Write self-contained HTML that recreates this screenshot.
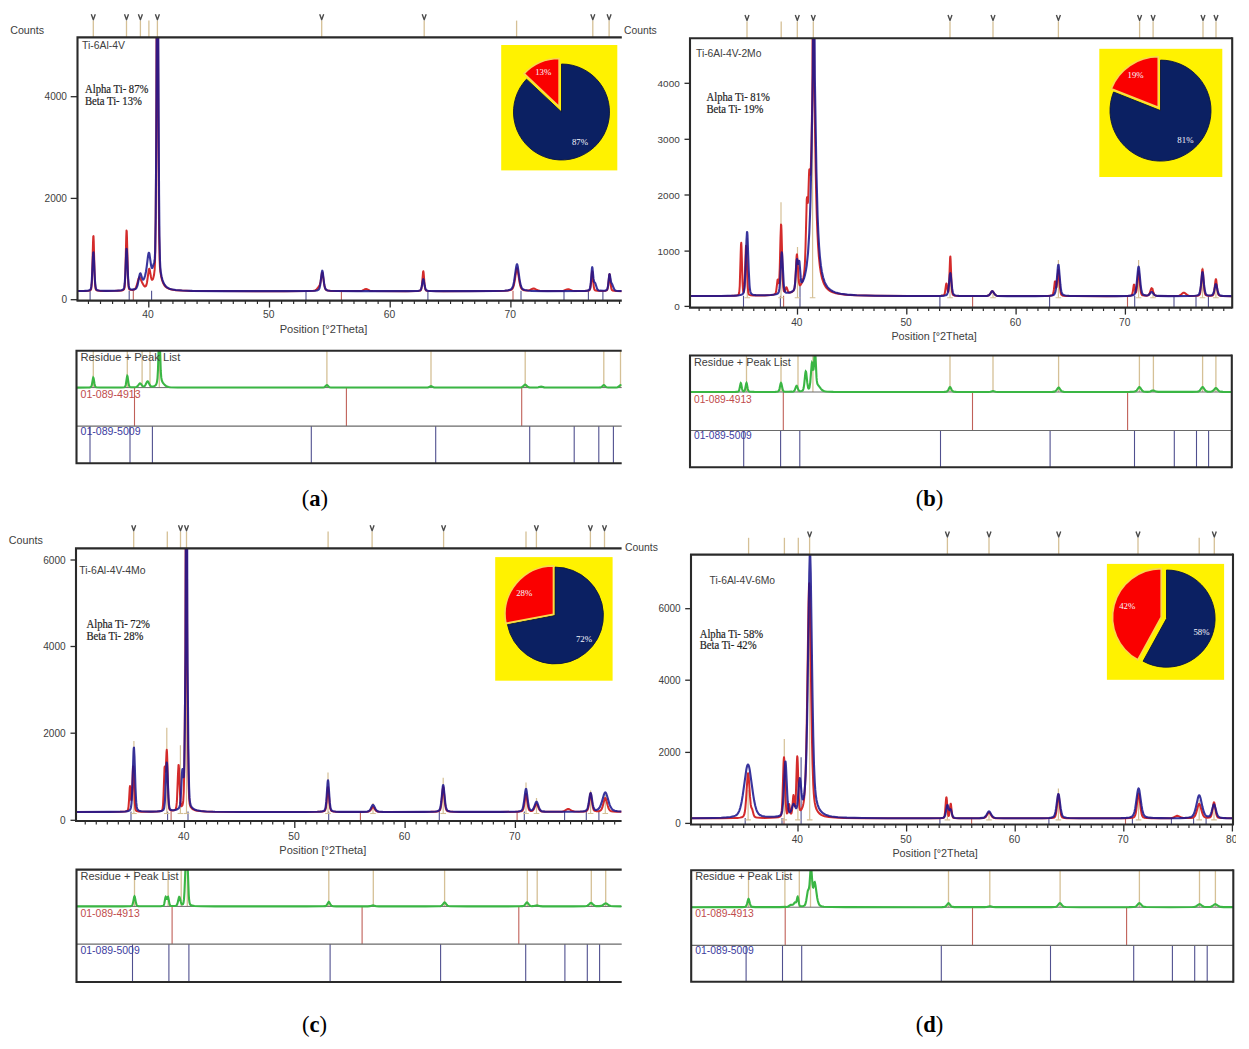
<!DOCTYPE html>
<html><head><meta charset="utf-8"><style>
html,body{margin:0;padding:0;background:#fff;}
svg{display:block;}
</style></head><body>
<svg width="1249" height="1049" viewBox="0 0 1249 1049">
<rect width="1249" height="1049" fill="#fff"/>
<clipPath id="edgeclip"><rect x="0" y="0" width="1236" height="1049"/></clipPath>
<clipPath id="c0"><rect x="77.5" y="37.4" width="544.3" height="263.2"/></clipPath>
<line x1="93.3" y1="20.6" x2="93.3" y2="37.4" stroke="#d5c096" stroke-width="1.3"/>
<path d="M91.3,14.2 L93.3,19.8 L95.3,14.2" stroke="#4a4a4a" stroke-width="1.35" fill="none" stroke-linejoin="round"/>
<line x1="126.5" y1="20.6" x2="126.5" y2="37.4" stroke="#d5c096" stroke-width="1.3"/>
<path d="M124.5,14.2 L126.5,19.8 L128.5,14.2" stroke="#4a4a4a" stroke-width="1.35" fill="none" stroke-linejoin="round"/>
<line x1="140.4" y1="20.6" x2="140.4" y2="37.4" stroke="#d5c096" stroke-width="1.3"/>
<path d="M138.4,14.2 L140.4,19.8 L142.4,14.2" stroke="#4a4a4a" stroke-width="1.35" fill="none" stroke-linejoin="round"/>
<line x1="148.9" y1="20.6" x2="148.9" y2="37.4" stroke="#d5c096" stroke-width="1.3"/>
<line x1="157.4" y1="20.6" x2="157.4" y2="37.4" stroke="#d5c096" stroke-width="1.3"/>
<path d="M155.4,14.2 L157.4,19.8 L159.4,14.2" stroke="#4a4a4a" stroke-width="1.35" fill="none" stroke-linejoin="round"/>
<line x1="321.7" y1="20.6" x2="321.7" y2="37.4" stroke="#d5c096" stroke-width="1.3"/>
<path d="M319.7,14.2 L321.7,19.8 L323.7,14.2" stroke="#4a4a4a" stroke-width="1.35" fill="none" stroke-linejoin="round"/>
<line x1="424.2" y1="20.6" x2="424.2" y2="37.4" stroke="#d5c096" stroke-width="1.3"/>
<path d="M422.2,14.2 L424.2,19.8 L426.2,14.2" stroke="#4a4a4a" stroke-width="1.35" fill="none" stroke-linejoin="round"/>
<line x1="516.6" y1="20.6" x2="516.6" y2="37.4" stroke="#d5c096" stroke-width="1.3"/>
<line x1="592.8" y1="20.6" x2="592.8" y2="37.4" stroke="#d5c096" stroke-width="1.3"/>
<path d="M590.8,14.2 L592.8,19.8 L594.8,14.2" stroke="#4a4a4a" stroke-width="1.35" fill="none" stroke-linejoin="round"/>
<line x1="609.1" y1="20.6" x2="609.1" y2="37.4" stroke="#d5c096" stroke-width="1.3"/>
<path d="M607.1,14.2 L609.1,19.8 L611.1,14.2" stroke="#4a4a4a" stroke-width="1.35" fill="none" stroke-linejoin="round"/>
<g clip-path="url(#c0)">
<line x1="90.1" y1="290.7" x2="90.1" y2="300.6" stroke="#50508f" stroke-width="1.1"/>
<line x1="129.2" y1="290.7" x2="129.2" y2="300.6" stroke="#50508f" stroke-width="1.1"/>
<line x1="151.6" y1="290.7" x2="151.6" y2="300.6" stroke="#50508f" stroke-width="1.1"/>
<line x1="306" y1="290.7" x2="306" y2="300.6" stroke="#50508f" stroke-width="1.1"/>
<line x1="427.9" y1="290.7" x2="427.9" y2="300.6" stroke="#50508f" stroke-width="1.1"/>
<line x1="521" y1="290.7" x2="521" y2="300.6" stroke="#50508f" stroke-width="1.1"/>
<line x1="564" y1="290.7" x2="564" y2="300.6" stroke="#50508f" stroke-width="1.1"/>
<line x1="588.4" y1="290.7" x2="588.4" y2="300.6" stroke="#50508f" stroke-width="1.1"/>
<line x1="602.9" y1="290.7" x2="602.9" y2="300.6" stroke="#50508f" stroke-width="1.1"/>
<line x1="133.3" y1="290.7" x2="133.3" y2="300.6" stroke="#c06058" stroke-width="1.1"/>
<line x1="341.4" y1="290.7" x2="341.4" y2="300.6" stroke="#c06058" stroke-width="1.1"/>
<line x1="513" y1="290.7" x2="513" y2="300.6" stroke="#c06058" stroke-width="1.1"/>
<path d="M77.5,291.1 L85.25,290.99 L88.75,290.71 L89.75,290.47 L90.5,290.1 L91,289.41 L91.25,288.6 L91.75,284.23 L92,279.56 L93,243.11 L93.25,236.74 L93.5,236.11 L93.75,241.47 L94.5,270.87 L95,283.45 L95.5,288.34 L95.75,289.27 L96.25,290.03 L96.75,290.33 L97.75,290.62 L100.5,290.89 L106.75,290.97 L115.5,290.86 L119.5,290.69 L121.75,290.44 L123.25,289.98 L124,289.33 L124.5,287.77 L124.75,285.84 L125.25,276.8 L126.25,236.43 L126.5,230.55 L126.75,231.23 L127,238.18 L128,277.99 L128.5,286.15 L128.75,287.83 L129.25,289.16 L129.75,289.58 L130.5,289.82 L132.5,289.92 L133.5,289.77 L134.25,289.51 L135.25,288.71 L136,287.45 L136.5,286.16 L138.5,278.68 L139,277.56 L139.25,277.33 L139.5,277.32 L139.75,277.51 L140.25,278.28 L142.5,283.37 L143.75,285.54 L144.75,286.44 L145.25,286.52 L145.75,286.21 L146.25,285.34 L146.5,284.63 L147,282.5 L148.75,270.14 L149,269.1 L149.25,268.69 L149.5,268.95 L149.75,269.81 L151,277 L151.5,278.94 L151.75,279.5 L152,279.8 L152.25,279.85 L152.75,279.31 L153.25,278.07 L154,275.01 L154.62,269.89 L154.98,262.8 L155.26,251.9 L155.66,221.15 L156.02,171.85 L156.38,99.03 L156.54,35.42 L156.58,32.4 L158.02,32.4 L158.3,115.95 L158.74,193.67 L159.14,236.45 L159.66,261.37 L159.94,267.09 L160.34,271.55 L161.09,276.2 L162.09,280.27 L163.09,283.01 L164.34,285.27 L165.84,286.97 L167.59,288.19 L169.09,288.86 L170.59,289.33 L172.59,289.77 L175.09,290.13 L181.34,290.6 L190.84,290.89 L219.34,291.1 L284.09,291.16 L305.59,291.09 L313.34,290.81 L315.09,290.45 L316.34,289.69 L317.59,288.26 L319.59,285.33 L320.09,283.95 L320.59,281.71 L321.84,273.69 L322.09,272.79 L322.34,272.63 L322.59,273.28 L322.84,274.61 L324.09,283.95 L324.84,287.51 L325.34,288.8 L326.09,289.78 L326.84,290.22 L328.09,290.57 L331.09,290.9 L336.34,291.07 L359.34,291.06 L360.84,290.95 L362.09,290.69 L363.09,290.29 L365.09,289.19 L366.09,288.98 L366.84,289.16 L369.84,290.67 L371.09,290.95 L372.84,291.08 L405.59,291.16 L417.84,290.99 L419.34,290.82 L420.34,290.54 L420.84,290.12 L421.34,288.97 L421.84,286.07 L422.09,283.67 L423.09,271.86 L423.34,271.21 L423.59,272.44 L424.59,284.51 L425.09,288.24 L425.34,289.24 L425.84,290.22 L426.34,290.57 L426.84,290.74 L428.34,290.96 L430.84,291.08 L443.34,291.17 L490.09,291.12 L499.59,291.02 L505.09,290.84 L508.34,290.54 L510.59,290.04 L511.84,289.37 L512.34,288.85 L512.84,288.08 L513.59,286.16 L514.09,284.19 L514.84,280.06 L516.34,269.96 L516.84,268.28 L517.09,268.2 L517.34,268.66 L517.59,269.62 L519.59,282.58 L520.59,286.7 L521.09,287.91 L521.84,289.03 L522.84,289.76 L524.09,290.18 L526.59,290.5 L528.59,290.38 L530.09,289.95 L532.59,288.74 L533.59,288.51 L534.84,288.8 L537.09,290.01 L538.34,290.51 L539.84,290.83 L542.09,291 L553.59,291.1 L561.34,290.99 L563.59,290.64 L566.84,289.37 L568.09,289.15 L569.09,289.35 L572.34,290.62 L574.59,290.98 L578.34,291.08 L584.34,291.02 L587.09,290.86 L588.59,290.58 L589.34,290.24 L589.84,289.68 L590.34,288.27 L590.59,286.94 L591.09,282.46 L591.84,273.1 L592.09,271.35 L592.34,271.47 L592.59,273.41 L593.34,282.8 L593.84,287.12 L594.34,289.21 L594.59,289.73 L595.09,290.25 L595.84,290.58 L597.34,290.84 L602.59,290.97 L605.84,290.67 L606.59,290.4 L607.09,289.97 L607.59,288.88 L608.09,286.31 L609.09,276.26 L609.34,274.51 L609.59,274.27 L609.84,275.65 L610.84,285.79 L611.34,288.64 L611.84,289.89 L612.59,290.51 L614.09,290.86 L616.84,291.05 L621.59,291.13" stroke="#d42b2b" stroke-width="2" fill="none" stroke-linejoin="round"/>
<path d="M77.5,291.06 L84.5,290.92 L88,290.62 L89.25,290.31 L90,289.93 L90.5,289.38 L90.75,288.87 L91.25,286.71 L91.75,281.73 L93,255.82 L93.25,252.63 L93.5,252.32 L94,259.83 L94.75,276.78 L95,281 L95.5,286.35 L96,288.71 L96.5,289.63 L97.25,290.15 L98.75,290.56 L101.25,290.79 L105.5,290.88 L117.5,290.65 L119.75,290.47 L121.5,290.18 L122.75,289.75 L123.5,289.15 L124,288.14 L124.25,287.15 L124.75,283.2 L125.25,275.24 L126.25,251.72 L126.5,248.83 L126.75,249.15 L127,252.57 L128,276.09 L128.5,283.55 L128.75,285.72 L129.25,288 L129.75,288.86 L130.25,289.22 L131,289.47 L132,289.58 L134.25,289.39 L135.5,288.92 L136,288.52 L136.5,287.87 L137.25,286.17 L137.75,284.39 L139.5,275.32 L140,273.64 L140.25,273.32 L140.5,273.38 L140.75,273.78 L142,277.89 L142.75,279.49 L143,279.68 L143.25,279.69 L143.5,279.53 L144,278.78 L145,275.98 L146,271.43 L146.75,266.35 L148,256.2 L148.5,253.45 L148.75,252.8 L149,252.73 L149.25,253.26 L149.5,254.31 L151,264.82 L151.5,267.16 L151.75,267.8 L152,268.06 L152.25,267.97 L152.5,267.56 L154.25,262.23 L154.5,261.06 L154.79,258.42 L155.15,250.86 L155.71,217.46 L156.27,138.22 L156.71,32.4 L158.27,32.4 L159.07,195.2 L159.47,236.27 L159.99,260.69 L160.31,267.1 L160.76,271.84 L161.51,276.27 L162.26,279.32 L163.26,282.23 L164.51,284.64 L166.01,286.47 L167.01,287.3 L168.01,287.94 L169.51,288.63 L171.26,289.2 L175.76,290.02 L182.26,290.53 L192.26,290.85 L221.76,291.09 L287.51,291.15 L307.76,291.07 L315.01,290.76 L316.76,290.48 L318.01,290.03 L318.76,289.4 L319.51,287.95 L320.26,284.74 L321.76,272.74 L322.01,271.31 L322.26,270.69 L322.51,271.02 L322.76,272.21 L324.01,282.56 L324.51,285.67 L325.01,287.71 L325.76,289.3 L326.51,289.98 L327.76,290.46 L329.51,290.76 L336.76,291.07 L357.26,291.17 L408.76,291.14 L415.26,291.06 L418.51,290.85 L420.01,290.45 L420.51,290.03 L421.01,289.17 L421.76,286.46 L422.76,280.7 L423.01,279.65 L423.26,279.19 L423.51,279.43 L423.76,280.31 L424.76,286.06 L425.51,288.98 L426.01,289.93 L426.51,290.4 L427.01,290.63 L428.01,290.84 L430.76,291.04 L436.01,291.13 L470.26,291.16 L494.26,291.05 L504.51,290.75 L508.01,290.36 L510.26,289.75 L511.51,288.92 L512.51,287.42 L513.26,285.33 L514.01,281.99 L516.26,266.39 L516.76,264.44 L517.01,264.19 L517.26,264.48 L517.76,266.5 L519.51,279.12 L520.01,282.09 L520.76,285.4 L521.51,287.46 L522.26,288.66 L523.26,289.51 L524.76,290.09 L527.51,290.57 L531.51,290.86 L547.76,291.11 L580.51,291.06 L585.51,290.86 L587.01,290.68 L588.26,290.37 L589.01,289.99 L589.51,289.45 L590.01,288.21 L590.26,287.09 L590.76,283.26 L591.76,270.25 L592.01,267.91 L592.26,267.19 L592.51,268.24 L593.51,278.64 L594.01,281.47 L594.26,282.07 L595.01,282.76 L595.26,283.18 L597.01,288.47 L597.51,289.43 L598.01,290.02 L598.76,290.45 L599.76,290.66 L603.51,290.76 L605.01,290.61 L606.01,290.37 L606.51,290.13 L607.01,289.6 L607.51,288.4 L608.01,285.87 L609.01,276.74 L609.26,274.86 L609.51,273.99 L609.76,274.35 L610.01,275.68 L611.01,281.97 L611.51,283.2 L612.26,284.29 L613.76,288.36 L614.51,289.75 L615.26,290.42 L616.26,290.75 L618.26,290.95 L621.76,291.07" stroke="#1c178e" stroke-width="2.1" fill="none" stroke-linejoin="round" stroke-opacity="0.87"/>
</g>
<path d="M77.5,300.6 L77.5,37.4 L621.8,37.4" stroke="#2a2a2a" stroke-width="2.1" fill="none"/>
<line x1="76.5" y1="300.6" x2="621.8" y2="300.6" stroke="#2a2a2a" stroke-width="2.1"/>
<line x1="70.7" y1="299.7" x2="77.5" y2="299.7" stroke="#2a2a2a" stroke-width="1.3"/>
<text x="67" y="303.3" font-family='"Liberation Sans", sans-serif' font-size="10.1" fill="#404040" text-anchor="end" font-weight="normal">0</text>
<line x1="70.7" y1="198.4" x2="77.5" y2="198.4" stroke="#2a2a2a" stroke-width="1.3"/>
<text x="67" y="202" font-family='"Liberation Sans", sans-serif' font-size="10.1" fill="#404040" text-anchor="end" font-weight="normal">2000</text>
<line x1="70.7" y1="96.7" x2="77.5" y2="96.7" stroke="#2a2a2a" stroke-width="1.3"/>
<text x="67" y="100.3" font-family='"Liberation Sans", sans-serif' font-size="10.1" fill="#404040" text-anchor="end" font-weight="normal">4000</text>
<line x1="88.45" y1="300.6" x2="88.45" y2="304" stroke="#2a2a2a" stroke-width="1.15"/>
<line x1="100.52" y1="300.6" x2="100.52" y2="304" stroke="#2a2a2a" stroke-width="1.15"/>
<line x1="112.59" y1="300.6" x2="112.59" y2="304" stroke="#2a2a2a" stroke-width="1.15"/>
<line x1="124.66" y1="300.6" x2="124.66" y2="304" stroke="#2a2a2a" stroke-width="1.15"/>
<line x1="136.73" y1="300.6" x2="136.73" y2="304" stroke="#2a2a2a" stroke-width="1.15"/>
<line x1="148.8" y1="300.6" x2="148.8" y2="307.6" stroke="#2a2a2a" stroke-width="1.3"/>
<text x="148.1" y="317.6" font-family='"Liberation Sans", sans-serif' font-size="10.3" fill="#404040" text-anchor="middle" font-weight="normal" clip-path="url(#edgeclip)">40</text>
<line x1="160.87" y1="300.6" x2="160.87" y2="304" stroke="#2a2a2a" stroke-width="1.15"/>
<line x1="172.94" y1="300.6" x2="172.94" y2="304" stroke="#2a2a2a" stroke-width="1.15"/>
<line x1="185.01" y1="300.6" x2="185.01" y2="304" stroke="#2a2a2a" stroke-width="1.15"/>
<line x1="197.08" y1="300.6" x2="197.08" y2="304" stroke="#2a2a2a" stroke-width="1.15"/>
<line x1="209.15" y1="300.6" x2="209.15" y2="304" stroke="#2a2a2a" stroke-width="1.15"/>
<line x1="221.22" y1="300.6" x2="221.22" y2="304" stroke="#2a2a2a" stroke-width="1.15"/>
<line x1="233.29" y1="300.6" x2="233.29" y2="304" stroke="#2a2a2a" stroke-width="1.15"/>
<line x1="245.36" y1="300.6" x2="245.36" y2="304" stroke="#2a2a2a" stroke-width="1.15"/>
<line x1="257.43" y1="300.6" x2="257.43" y2="304" stroke="#2a2a2a" stroke-width="1.15"/>
<line x1="269.5" y1="300.6" x2="269.5" y2="307.6" stroke="#2a2a2a" stroke-width="1.3"/>
<text x="268.8" y="317.6" font-family='"Liberation Sans", sans-serif' font-size="10.3" fill="#404040" text-anchor="middle" font-weight="normal" clip-path="url(#edgeclip)">50</text>
<line x1="281.57" y1="300.6" x2="281.57" y2="304" stroke="#2a2a2a" stroke-width="1.15"/>
<line x1="293.64" y1="300.6" x2="293.64" y2="304" stroke="#2a2a2a" stroke-width="1.15"/>
<line x1="305.71" y1="300.6" x2="305.71" y2="304" stroke="#2a2a2a" stroke-width="1.15"/>
<line x1="317.78" y1="300.6" x2="317.78" y2="304" stroke="#2a2a2a" stroke-width="1.15"/>
<line x1="329.85" y1="300.6" x2="329.85" y2="304" stroke="#2a2a2a" stroke-width="1.15"/>
<line x1="341.92" y1="300.6" x2="341.92" y2="304" stroke="#2a2a2a" stroke-width="1.15"/>
<line x1="353.99" y1="300.6" x2="353.99" y2="304" stroke="#2a2a2a" stroke-width="1.15"/>
<line x1="366.06" y1="300.6" x2="366.06" y2="304" stroke="#2a2a2a" stroke-width="1.15"/>
<line x1="378.13" y1="300.6" x2="378.13" y2="304" stroke="#2a2a2a" stroke-width="1.15"/>
<line x1="390.2" y1="300.6" x2="390.2" y2="307.6" stroke="#2a2a2a" stroke-width="1.3"/>
<text x="389.5" y="317.6" font-family='"Liberation Sans", sans-serif' font-size="10.3" fill="#404040" text-anchor="middle" font-weight="normal" clip-path="url(#edgeclip)">60</text>
<line x1="402.27" y1="300.6" x2="402.27" y2="304" stroke="#2a2a2a" stroke-width="1.15"/>
<line x1="414.34" y1="300.6" x2="414.34" y2="304" stroke="#2a2a2a" stroke-width="1.15"/>
<line x1="426.41" y1="300.6" x2="426.41" y2="304" stroke="#2a2a2a" stroke-width="1.15"/>
<line x1="438.48" y1="300.6" x2="438.48" y2="304" stroke="#2a2a2a" stroke-width="1.15"/>
<line x1="450.55" y1="300.6" x2="450.55" y2="304" stroke="#2a2a2a" stroke-width="1.15"/>
<line x1="462.62" y1="300.6" x2="462.62" y2="304" stroke="#2a2a2a" stroke-width="1.15"/>
<line x1="474.69" y1="300.6" x2="474.69" y2="304" stroke="#2a2a2a" stroke-width="1.15"/>
<line x1="486.76" y1="300.6" x2="486.76" y2="304" stroke="#2a2a2a" stroke-width="1.15"/>
<line x1="498.83" y1="300.6" x2="498.83" y2="304" stroke="#2a2a2a" stroke-width="1.15"/>
<line x1="510.9" y1="300.6" x2="510.9" y2="307.6" stroke="#2a2a2a" stroke-width="1.3"/>
<text x="510.2" y="317.6" font-family='"Liberation Sans", sans-serif' font-size="10.3" fill="#404040" text-anchor="middle" font-weight="normal" clip-path="url(#edgeclip)">70</text>
<line x1="522.97" y1="300.6" x2="522.97" y2="304" stroke="#2a2a2a" stroke-width="1.15"/>
<line x1="535.04" y1="300.6" x2="535.04" y2="304" stroke="#2a2a2a" stroke-width="1.15"/>
<line x1="547.11" y1="300.6" x2="547.11" y2="304" stroke="#2a2a2a" stroke-width="1.15"/>
<line x1="559.18" y1="300.6" x2="559.18" y2="304" stroke="#2a2a2a" stroke-width="1.15"/>
<line x1="571.25" y1="300.6" x2="571.25" y2="304" stroke="#2a2a2a" stroke-width="1.15"/>
<line x1="583.32" y1="300.6" x2="583.32" y2="304" stroke="#2a2a2a" stroke-width="1.15"/>
<line x1="595.39" y1="300.6" x2="595.39" y2="304" stroke="#2a2a2a" stroke-width="1.15"/>
<line x1="607.46" y1="300.6" x2="607.46" y2="304" stroke="#2a2a2a" stroke-width="1.15"/>
<line x1="619.53" y1="300.6" x2="619.53" y2="304" stroke="#2a2a2a" stroke-width="1.15"/>
<text x="279.7" y="332.8" font-family='"Liberation Sans", sans-serif' font-size="11.1" fill="#404040" text-anchor="start" font-weight="normal">Position [°2Theta]</text>
<text x="10.2" y="34" font-family='"Liberation Sans", sans-serif' font-size="10.7" fill="#404040" text-anchor="start" font-weight="normal">Counts</text>
<text x="82" y="48.6" font-family='"Liberation Sans", sans-serif' font-size="10.4" fill="#404040" text-anchor="start" font-weight="normal">Ti-6Al-4V</text>
<text transform="translate(85,93.3) scale(0.89,1)" font-family='"Liberation Serif", serif' font-size="12" fill="#222" stroke="#222" stroke-width="0.2">Alpha Ti- 87%</text>
<text transform="translate(85,105.4) scale(0.89,1)" font-family='"Liberation Serif", serif' font-size="12" fill="#222" stroke="#222" stroke-width="0.2">Beta Ti- 13%</text>
<rect x="501.2" y="45" width="116.1" height="125.4" fill="#fff200"/>
<path d="M561.5,112 L561.5,64 A48,48 0 1 1 526.51,79.14 Z" fill="#0b2062" stroke="#0a1440" stroke-width="0.9"/>
<path d="M559.12,106.49 L524.13,73.64 A48,48 0 0 1 559.12,58.49 Z" fill="#fa0000" stroke="#f8d850" stroke-width="1.6" stroke-linejoin="miter"/>
<text x="543.2" y="74.9" font-family='"Liberation Serif", serif' font-size="8.8" fill="#f4f6fc" text-anchor="middle" font-weight="normal">13%</text>
<text x="580" y="145.3" font-family='"Liberation Serif", serif' font-size="8.8" fill="#f4f6fc" text-anchor="middle" font-weight="normal">87%</text>
<clipPath id="c1"><rect x="690" y="38.2" width="542.2" height="269.4"/></clipPath>
<line x1="747" y1="21.4" x2="747" y2="38.2" stroke="#d5c096" stroke-width="1.3"/>
<path d="M745,15 L747,20.6 L749,15" stroke="#4a4a4a" stroke-width="1.35" fill="none" stroke-linejoin="round"/>
<line x1="781.2" y1="21.4" x2="781.2" y2="38.2" stroke="#d5c096" stroke-width="1.3"/>
<line x1="797.3" y1="21.4" x2="797.3" y2="38.2" stroke="#d5c096" stroke-width="1.3"/>
<path d="M795.3,15 L797.3,20.6 L799.3,15" stroke="#4a4a4a" stroke-width="1.35" fill="none" stroke-linejoin="round"/>
<line x1="813.3" y1="21.4" x2="813.3" y2="38.2" stroke="#d5c096" stroke-width="1.3"/>
<path d="M811.3,15 L813.3,20.6 L815.3,15" stroke="#4a4a4a" stroke-width="1.35" fill="none" stroke-linejoin="round"/>
<line x1="950" y1="21.4" x2="950" y2="38.2" stroke="#d5c096" stroke-width="1.3"/>
<path d="M948,15 L950,20.6 L952,15" stroke="#4a4a4a" stroke-width="1.35" fill="none" stroke-linejoin="round"/>
<line x1="993" y1="21.4" x2="993" y2="38.2" stroke="#d5c096" stroke-width="1.3"/>
<path d="M991,15 L993,20.6 L995,15" stroke="#4a4a4a" stroke-width="1.35" fill="none" stroke-linejoin="round"/>
<line x1="1058.4" y1="21.4" x2="1058.4" y2="38.2" stroke="#d5c096" stroke-width="1.3"/>
<path d="M1056.4,15 L1058.4,20.6 L1060.4,15" stroke="#4a4a4a" stroke-width="1.35" fill="none" stroke-linejoin="round"/>
<line x1="1139.6" y1="21.4" x2="1139.6" y2="38.2" stroke="#d5c096" stroke-width="1.3"/>
<path d="M1137.6,15 L1139.6,20.6 L1141.6,15" stroke="#4a4a4a" stroke-width="1.35" fill="none" stroke-linejoin="round"/>
<line x1="1153.1" y1="21.4" x2="1153.1" y2="38.2" stroke="#d5c096" stroke-width="1.3"/>
<path d="M1151.1,15 L1153.1,20.6 L1155.1,15" stroke="#4a4a4a" stroke-width="1.35" fill="none" stroke-linejoin="round"/>
<line x1="1203" y1="21.4" x2="1203" y2="38.2" stroke="#d5c096" stroke-width="1.3"/>
<path d="M1201,15 L1203,20.6 L1205,15" stroke="#4a4a4a" stroke-width="1.35" fill="none" stroke-linejoin="round"/>
<line x1="1216" y1="21.4" x2="1216" y2="38.2" stroke="#d5c096" stroke-width="1.3"/>
<path d="M1214,15 L1216,20.6 L1218,15" stroke="#4a4a4a" stroke-width="1.35" fill="none" stroke-linejoin="round"/>
<g clip-path="url(#c1)">
<line x1="743.5" y1="295.7" x2="743.5" y2="307.6" stroke="#50508f" stroke-width="1.1"/>
<line x1="780.4" y1="295.7" x2="780.4" y2="307.6" stroke="#50508f" stroke-width="1.1"/>
<line x1="800" y1="279" x2="800" y2="307.6" stroke="#50508f" stroke-width="1.1"/>
<line x1="939.9" y1="295.7" x2="939.9" y2="307.6" stroke="#50508f" stroke-width="1.1"/>
<line x1="1049.6" y1="295.7" x2="1049.6" y2="307.6" stroke="#50508f" stroke-width="1.1"/>
<line x1="1134.7" y1="295.7" x2="1134.7" y2="307.6" stroke="#50508f" stroke-width="1.1"/>
<line x1="1174" y1="295.7" x2="1174" y2="307.6" stroke="#50508f" stroke-width="1.1"/>
<line x1="1196" y1="295.7" x2="1196" y2="307.6" stroke="#50508f" stroke-width="1.1"/>
<line x1="1208.4" y1="295.7" x2="1208.4" y2="307.6" stroke="#50508f" stroke-width="1.1"/>
<line x1="783.6" y1="295.7" x2="783.6" y2="307.6" stroke="#c06058" stroke-width="1.1"/>
<line x1="972.6" y1="295.7" x2="972.6" y2="307.6" stroke="#c06058" stroke-width="1.1"/>
<line x1="1127.5" y1="295.7" x2="1127.5" y2="307.6" stroke="#c06058" stroke-width="1.1"/>
<line x1="747.3" y1="238" x2="747.3" y2="297.7" stroke="#d5c096" stroke-width="1.2"/>
<line x1="744.5" y1="297.7" x2="750.1" y2="297.7" stroke="#d5c096" stroke-width="1.1"/>
<line x1="781" y1="202.3" x2="781" y2="297.7" stroke="#d5c096" stroke-width="1.2"/>
<line x1="778.2" y1="297.7" x2="783.8" y2="297.7" stroke="#d5c096" stroke-width="1.1"/>
<line x1="797.5" y1="246.9" x2="797.5" y2="297.7" stroke="#d5c096" stroke-width="1.2"/>
<line x1="794.7" y1="297.7" x2="800.3" y2="297.7" stroke="#d5c096" stroke-width="1.1"/>
<line x1="812.6" y1="38" x2="812.6" y2="297.7" stroke="#d5c096" stroke-width="1.2"/>
<line x1="809.8" y1="297.7" x2="815.4" y2="297.7" stroke="#d5c096" stroke-width="1.1"/>
<line x1="950" y1="262" x2="950" y2="297.7" stroke="#d5c096" stroke-width="1.2"/>
<line x1="947.2" y1="297.7" x2="952.8" y2="297.7" stroke="#d5c096" stroke-width="1.1"/>
<line x1="993" y1="292" x2="993" y2="297.7" stroke="#d5c096" stroke-width="1.2"/>
<line x1="990.2" y1="297.7" x2="995.8" y2="297.7" stroke="#d5c096" stroke-width="1.1"/>
<line x1="1058.4" y1="260" x2="1058.4" y2="297.7" stroke="#d5c096" stroke-width="1.2"/>
<line x1="1055.6" y1="297.7" x2="1061.2" y2="297.7" stroke="#d5c096" stroke-width="1.1"/>
<line x1="1138.6" y1="260" x2="1138.6" y2="297.7" stroke="#d5c096" stroke-width="1.2"/>
<line x1="1135.8" y1="297.7" x2="1141.4" y2="297.7" stroke="#d5c096" stroke-width="1.1"/>
<line x1="1153" y1="288" x2="1153" y2="297.7" stroke="#d5c096" stroke-width="1.2"/>
<line x1="1150.2" y1="297.7" x2="1155.8" y2="297.7" stroke="#d5c096" stroke-width="1.1"/>
<line x1="1202.5" y1="267.6" x2="1202.5" y2="297.7" stroke="#d5c096" stroke-width="1.2"/>
<line x1="1199.7" y1="297.7" x2="1205.3" y2="297.7" stroke="#d5c096" stroke-width="1.1"/>
<line x1="1215.9" y1="278.5" x2="1215.9" y2="297.7" stroke="#d5c096" stroke-width="1.2"/>
<line x1="1213.1" y1="297.7" x2="1218.7" y2="297.7" stroke="#d5c096" stroke-width="1.1"/>
<path d="M690,296.09 L719,295.99 L731.5,295.82 L734.5,295.68 L736.5,295.44 L737.75,295.1 L738.5,294.6 L739,293.52 L739.25,292.21 L739.75,285.73 L740.75,251.58 L741,244.63 L741.25,242.8 L741.5,246.82 L742.5,281.78 L743,290.12 L743.25,291.76 L743.5,292.35 L743.75,292.12 L744,291.09 L744.5,285.52 L745.75,249.79 L746,245.85 L746.25,246.35 L746.5,251.11 L747.25,275.29 L747.75,286.87 L748.25,292.24 L748.75,294.1 L749,294.48 L749.5,294.86 L751,295.28 L753.5,295.49 L757.5,295.54 L764.75,295.39 L770.25,295.08 L773.25,294.67 L774.25,294.39 L775,293.99 L775.5,293.37 L775.75,292.79 L776.25,290.61 L777.5,280.11 L777.75,279.46 L778,280.02 L778.5,282.7 L778.75,283.34 L779,282.64 L779.25,280.05 L779.75,267.96 L780.5,237.66 L781,224.57 L781.25,225.12 L781.5,230.7 L782.75,277.98 L783.25,287.07 L783.75,290.65 L784,291.3 L784.25,291.52 L784.5,291.44 L785,290.61 L786,287.74 L786.25,287.34 L786.5,287.31 L787,288.31 L788,291.29 L788.5,292.13 L789,292.5 L789.5,292.59 L790.25,292.51 L792.25,291.76 L793.25,291.02 L794,289.81 L794.5,287.88 L795,283.86 L795.5,276.73 L796.5,257.45 L796.75,254.77 L797,254.35 L797.5,259.93 L798.5,277.61 L799,282.63 L799.5,284.83 L799.75,285.23 L800,285.35 L800.25,285.29 L800.75,284.81 L801.75,283.06 L802.75,280.28 L803.5,277.16 L804,274.1 L804.5,269.36 L805,261.25 L805.5,247.55 L806.75,199.49 L807,197.35 L807.75,202.94 L808,201.75 L808.25,197.47 L809,174.34 L809.25,169.78 L809.5,169.17 L810,173.62 L810.25,174.72 L810.5,173.56 L810.74,169.91 L811.42,146.29 L812.26,97.79 L812.46,73.62 L812.58,33.2 L814.02,33.2 L814.3,85.72 L815.66,170.49 L816.22,196.27 L816.84,217.88 L817.34,231.11 L818.09,245.88 L818.84,256.38 L819.84,266.12 L820.84,272.77 L822.09,278.44 L823.59,282.93 L824.34,284.57 L825.34,286.32 L826.34,287.72 L827.34,288.83 L828.59,289.95 L829.84,290.83 L831.59,291.78 L833.59,292.59 L835.84,293.26 L838.59,293.85 L845.34,294.73 L854.84,295.32 L875.09,295.79 L910.34,296.02 L936.34,296 L940.84,295.86 L943.09,295.57 L943.59,295.39 L944.09,295 L944.59,294.03 L944.84,293.12 L946.09,284.46 L946.34,283.56 L946.59,283.79 L946.84,285.02 L947.84,291.33 L948.09,291.83 L948.34,291.56 L948.59,290.27 L949.09,283.43 L950.09,257.96 L950.34,256.42 L950.59,259.42 L951.59,285.43 L952.09,291.81 L952.59,294.11 L953.09,294.87 L954.09,295.41 L955.59,295.73 L959.34,295.98 L967.34,296.08 L981.84,296.07 L987.09,295.88 L988.34,295.57 L989.09,295.1 L990.09,293.95 L991.59,291.61 L992.09,291.18 L992.34,291.14 L992.59,291.22 L993.09,291.71 L994.59,294.07 L995.59,295.17 L996.59,295.7 L998.09,295.95 L1007.84,296.12 L1040.34,296.11 L1047.84,295.97 L1051.34,295.61 L1052.09,295.35 L1052.59,294.97 L1053.09,294.01 L1053.34,293.1 L1053.84,289.99 L1054.84,281.61 L1055.09,281.26 L1055.34,282.14 L1056.09,286.88 L1056.34,287.46 L1056.59,287.06 L1057.09,283.29 L1058.09,271 L1058.34,269.81 L1058.59,270.32 L1058.84,272.4 L1059.84,286.06 L1060.59,292.41 L1061.09,294.19 L1061.59,294.96 L1062.34,295.41 L1063.34,295.67 L1066.34,295.96 L1071.84,296.09 L1106.84,296.15 L1125.34,296.04 L1128.84,295.89 L1130.84,295.6 L1131.34,295.4 L1131.84,294.93 L1132.34,293.76 L1132.84,291.34 L1133.59,286.02 L1133.84,284.85 L1134.09,284.64 L1134.34,285.45 L1135.34,291.46 L1135.59,292.21 L1135.84,292.45 L1136.09,292.18 L1136.59,290.03 L1136.84,288.13 L1138.09,273.69 L1138.34,271.71 L1138.59,270.96 L1138.84,271.63 L1139.09,273.56 L1140.09,285.74 L1140.84,291.91 L1141.09,293.06 L1141.59,294.4 L1142.09,295.01 L1142.59,295.29 L1144.09,295.62 L1146.34,295.71 L1147.84,295.51 L1148.59,295.07 L1149.09,294.46 L1149.59,293.47 L1151.09,288.93 L1151.59,288.12 L1151.84,288.14 L1152.34,289.03 L1153.59,292.96 L1154.34,294.57 L1155.09,295.37 L1156.34,295.81 L1159.09,296 L1164.84,296.09 L1174.09,296.07 L1177.84,295.92 L1179.09,295.68 L1180.09,295.26 L1181.09,294.57 L1182.84,293.01 L1183.34,292.73 L1183.84,292.63 L1184.34,292.76 L1184.84,293.07 L1187.34,295.14 L1188.84,295.73 L1190.09,295.9 L1192.09,295.96 L1196.84,295.77 L1198.59,295.41 L1199.34,294.95 L1199.84,294.13 L1200.34,292.21 L1201.09,285.46 L1202.09,271.44 L1202.34,269.49 L1202.59,269.24 L1203.09,273.61 L1203.84,284.55 L1204.34,289.99 L1204.59,291.79 L1205.09,293.92 L1205.34,294.49 L1205.84,295.08 L1206.59,295.44 L1207.59,295.64 L1210.84,295.74 L1212.59,295.41 L1213.09,295.02 L1213.34,294.65 L1213.84,293.25 L1214.09,292.08 L1215.34,281.69 L1215.59,279.97 L1215.84,279.15 L1216.09,279.45 L1216.34,280.78 L1217.34,289.65 L1217.84,292.77 L1218.34,294.46 L1218.84,295.22 L1219.84,295.7 L1221.84,295.95 L1232.09,296.14" stroke="#d42b2b" stroke-width="2" fill="none" stroke-linejoin="round"/>
<path d="M690,296.07 L721,295.93 L734.5,295.67 L738,295.43 L740.25,295.08 L742,294.48 L743,293.7 L743.5,292.84 L744,291.06 L744.5,287.39 L744.75,284.42 L745.5,269.35 L746.5,240.12 L747,232.03 L747.25,232.34 L747.5,235.68 L748.75,270.61 L749.5,285.02 L749.75,287.81 L750.25,291.22 L750.75,292.85 L751.5,293.89 L752.25,294.37 L753,294.66 L755.75,295.14 L759.75,295.3 L765.75,295.22 L771,294.95 L774.75,294.53 L777,293.94 L777.75,293.53 L778.25,293.05 L778.75,292.08 L779,291.22 L779.5,288.19 L779.75,285.71 L780.25,278.34 L781.25,257.76 L781.5,254.09 L781.75,252.41 L782,253.1 L782.25,256 L783.75,284.05 L784,286.77 L784.5,290.14 L784.75,291.08 L785.25,292.08 L786,292.62 L787.25,292.8 L789,292.64 L790.75,292.18 L792.25,291.5 L793.25,290.77 L793.75,290.14 L794.25,288.98 L794.75,286.59 L795.25,282.03 L796.5,262.51 L796.75,259.94 L797,258.96 L797.25,259.5 L798,263.74 L798.25,263.99 L798.5,263.35 L799,261.04 L799.25,260.83 L799.5,262.04 L800.75,277.69 L801.25,281.12 L801.5,281.91 L801.75,282.27 L802,282.31 L802.5,281.83 L803,280.95 L804,278.43 L805,274.88 L806,269.96 L806.75,265.01 L808,253.08 L809.25,233.42 L810,215.34 L810.5,199.41 L811.44,158.16 L812.8,74.48 L813.04,33.2 L814.56,33.2 L814.84,77.49 L816.44,172.23 L817.59,215.16 L818.34,233.34 L819.09,246.43 L819.84,256.03 L820.84,265.2 L821.84,271.64 L823.09,277.28 L824.59,281.85 L825.34,283.55 L826.34,285.38 L827.34,286.85 L828.59,288.31 L829.84,289.45 L831.34,290.52 L833.09,291.48 L835.34,292.39 L837.84,293.13 L840.59,293.72 L847.34,294.61 L856.84,295.22 L875.09,295.71 L905.09,295.97 L935.59,295.99 L941.09,295.87 L944.34,295.6 L945.84,295.25 L946.84,294.59 L947.34,293.79 L947.84,292.22 L948.59,287.49 L949.84,274.98 L950.09,273.51 L950.34,273.11 L950.59,273.88 L950.84,275.64 L952.09,288.16 L952.84,292.54 L953.34,293.96 L953.84,294.69 L954.59,295.19 L955.59,295.5 L958.84,295.86 L964.84,296.02 L980.84,296.06 L987.09,295.86 L988.34,295.55 L989.09,295.08 L990.09,293.94 L991.59,291.59 L992.09,291.17 L992.34,291.12 L992.59,291.21 L993.09,291.69 L994.59,294.06 L995.59,295.15 L996.59,295.68 L998.09,295.93 L1007.09,296.1 L1035.34,296.09 L1045.34,295.97 L1050.34,295.68 L1052.59,295.27 L1053.84,294.71 L1054.59,293.9 L1055.34,291.96 L1055.84,289.41 L1056.34,285.43 L1057.84,267.57 L1058.09,265.6 L1058.34,264.7 L1058.59,265.02 L1058.84,266.51 L1060.34,284.24 L1060.84,288.6 L1061.34,291.46 L1061.84,293.15 L1062.59,294.39 L1063.59,295.05 L1065.34,295.52 L1069.09,295.88 L1076.09,296.06 L1116.34,296.09 L1128.09,295.86 L1131.09,295.58 L1133.09,295.12 L1134.09,294.55 L1134.84,293.55 L1135.34,292.24 L1135.84,290.05 L1136.59,284.51 L1138.09,268.68 L1138.34,267.19 L1138.59,266.64 L1138.84,267.11 L1139.09,268.53 L1140.59,284.3 L1141.09,288.37 L1141.59,291.16 L1142.09,292.9 L1142.59,293.9 L1143.34,294.67 L1144.34,295.12 L1146.59,295.44 L1148.09,295.2 L1149.09,294.55 L1150.84,292.48 L1151.59,291.98 L1151.84,291.99 L1152.34,292.3 L1154.09,294.48 L1154.84,295.16 L1155.84,295.66 L1157.59,295.92 L1168.59,296.1 L1189.09,296.03 L1194.84,295.79 L1196.59,295.56 L1197.84,295.22 L1198.59,294.77 L1199.09,294.17 L1199.59,293.05 L1200.09,291.04 L1200.84,285.64 L1202.09,273.51 L1202.34,272.33 L1202.59,272.18 L1202.84,273.08 L1203.09,274.85 L1204.09,284.96 L1204.84,290.62 L1205.59,293.47 L1206.34,294.62 L1206.84,294.96 L1207.59,295.23 L1209.84,295.48 L1211.59,295.3 L1212.09,295.09 L1212.59,294.69 L1213.09,293.97 L1213.59,292.75 L1214.09,290.95 L1215.34,285.16 L1215.59,284.41 L1215.84,284.07 L1216.09,284.2 L1216.34,284.77 L1217.59,290.5 L1218.34,293.22 L1218.84,294.31 L1219.59,295.17 L1220.59,295.6 L1222.59,295.87 L1232.09,296.11" stroke="#1c178e" stroke-width="2.1" fill="none" stroke-linejoin="round" stroke-opacity="0.87"/>
</g>
<path d="M690,307.6 L690,38.2 L1232.2,38.2" stroke="#2a2a2a" stroke-width="2.1" fill="none"/>
<line x1="689" y1="307.6" x2="1232.2" y2="307.6" stroke="#2a2a2a" stroke-width="2.1"/>
<line x1="1232.2" y1="37.2" x2="1232.2" y2="308.6" stroke="#2a2a2a" stroke-width="2.1"/>
<line x1="684.5" y1="306.4" x2="690" y2="306.4" stroke="#2a2a2a" stroke-width="1.3"/>
<text x="679.7" y="310" font-family='"Liberation Sans", sans-serif' font-size="9.95" fill="#404040" text-anchor="end" font-weight="normal">0</text>
<line x1="684.5" y1="251.1" x2="690" y2="251.1" stroke="#2a2a2a" stroke-width="1.3"/>
<text x="679.7" y="254.7" font-family='"Liberation Sans", sans-serif' font-size="9.95" fill="#404040" text-anchor="end" font-weight="normal">1000</text>
<line x1="684.5" y1="195" x2="690" y2="195" stroke="#2a2a2a" stroke-width="1.3"/>
<text x="679.7" y="198.6" font-family='"Liberation Sans", sans-serif' font-size="9.95" fill="#404040" text-anchor="end" font-weight="normal">2000</text>
<line x1="684.5" y1="139.3" x2="690" y2="139.3" stroke="#2a2a2a" stroke-width="1.3"/>
<text x="679.7" y="142.9" font-family='"Liberation Sans", sans-serif' font-size="9.95" fill="#404040" text-anchor="end" font-weight="normal">3000</text>
<line x1="684.5" y1="83.3" x2="690" y2="83.3" stroke="#2a2a2a" stroke-width="1.3"/>
<text x="679.7" y="86.9" font-family='"Liberation Sans", sans-serif' font-size="9.95" fill="#404040" text-anchor="end" font-weight="normal">4000</text>
<line x1="699.13" y1="307.6" x2="699.13" y2="311" stroke="#2a2a2a" stroke-width="1.15"/>
<line x1="710.06" y1="307.6" x2="710.06" y2="311" stroke="#2a2a2a" stroke-width="1.15"/>
<line x1="720.99" y1="307.6" x2="720.99" y2="311" stroke="#2a2a2a" stroke-width="1.15"/>
<line x1="731.92" y1="307.6" x2="731.92" y2="311" stroke="#2a2a2a" stroke-width="1.15"/>
<line x1="742.85" y1="307.6" x2="742.85" y2="311" stroke="#2a2a2a" stroke-width="1.15"/>
<line x1="753.78" y1="307.6" x2="753.78" y2="311" stroke="#2a2a2a" stroke-width="1.15"/>
<line x1="764.71" y1="307.6" x2="764.71" y2="311" stroke="#2a2a2a" stroke-width="1.15"/>
<line x1="775.64" y1="307.6" x2="775.64" y2="311" stroke="#2a2a2a" stroke-width="1.15"/>
<line x1="786.57" y1="307.6" x2="786.57" y2="311" stroke="#2a2a2a" stroke-width="1.15"/>
<line x1="797.5" y1="307.6" x2="797.5" y2="314.6" stroke="#2a2a2a" stroke-width="1.3"/>
<text x="796.8" y="325.9" font-family='"Liberation Sans", sans-serif' font-size="10.2" fill="#404040" text-anchor="middle" font-weight="normal" clip-path="url(#edgeclip)">40</text>
<line x1="808.43" y1="307.6" x2="808.43" y2="311" stroke="#2a2a2a" stroke-width="1.15"/>
<line x1="819.36" y1="307.6" x2="819.36" y2="311" stroke="#2a2a2a" stroke-width="1.15"/>
<line x1="830.29" y1="307.6" x2="830.29" y2="311" stroke="#2a2a2a" stroke-width="1.15"/>
<line x1="841.22" y1="307.6" x2="841.22" y2="311" stroke="#2a2a2a" stroke-width="1.15"/>
<line x1="852.15" y1="307.6" x2="852.15" y2="311" stroke="#2a2a2a" stroke-width="1.15"/>
<line x1="863.08" y1="307.6" x2="863.08" y2="311" stroke="#2a2a2a" stroke-width="1.15"/>
<line x1="874.01" y1="307.6" x2="874.01" y2="311" stroke="#2a2a2a" stroke-width="1.15"/>
<line x1="884.94" y1="307.6" x2="884.94" y2="311" stroke="#2a2a2a" stroke-width="1.15"/>
<line x1="895.87" y1="307.6" x2="895.87" y2="311" stroke="#2a2a2a" stroke-width="1.15"/>
<line x1="906.8" y1="307.6" x2="906.8" y2="314.6" stroke="#2a2a2a" stroke-width="1.3"/>
<text x="906.1" y="325.9" font-family='"Liberation Sans", sans-serif' font-size="10.2" fill="#404040" text-anchor="middle" font-weight="normal" clip-path="url(#edgeclip)">50</text>
<line x1="917.73" y1="307.6" x2="917.73" y2="311" stroke="#2a2a2a" stroke-width="1.15"/>
<line x1="928.66" y1="307.6" x2="928.66" y2="311" stroke="#2a2a2a" stroke-width="1.15"/>
<line x1="939.59" y1="307.6" x2="939.59" y2="311" stroke="#2a2a2a" stroke-width="1.15"/>
<line x1="950.52" y1="307.6" x2="950.52" y2="311" stroke="#2a2a2a" stroke-width="1.15"/>
<line x1="961.45" y1="307.6" x2="961.45" y2="311" stroke="#2a2a2a" stroke-width="1.15"/>
<line x1="972.38" y1="307.6" x2="972.38" y2="311" stroke="#2a2a2a" stroke-width="1.15"/>
<line x1="983.31" y1="307.6" x2="983.31" y2="311" stroke="#2a2a2a" stroke-width="1.15"/>
<line x1="994.24" y1="307.6" x2="994.24" y2="311" stroke="#2a2a2a" stroke-width="1.15"/>
<line x1="1005.17" y1="307.6" x2="1005.17" y2="311" stroke="#2a2a2a" stroke-width="1.15"/>
<line x1="1016.1" y1="307.6" x2="1016.1" y2="314.6" stroke="#2a2a2a" stroke-width="1.3"/>
<text x="1015.4" y="325.9" font-family='"Liberation Sans", sans-serif' font-size="10.2" fill="#404040" text-anchor="middle" font-weight="normal" clip-path="url(#edgeclip)">60</text>
<line x1="1027.03" y1="307.6" x2="1027.03" y2="311" stroke="#2a2a2a" stroke-width="1.15"/>
<line x1="1037.96" y1="307.6" x2="1037.96" y2="311" stroke="#2a2a2a" stroke-width="1.15"/>
<line x1="1048.89" y1="307.6" x2="1048.89" y2="311" stroke="#2a2a2a" stroke-width="1.15"/>
<line x1="1059.82" y1="307.6" x2="1059.82" y2="311" stroke="#2a2a2a" stroke-width="1.15"/>
<line x1="1070.75" y1="307.6" x2="1070.75" y2="311" stroke="#2a2a2a" stroke-width="1.15"/>
<line x1="1081.68" y1="307.6" x2="1081.68" y2="311" stroke="#2a2a2a" stroke-width="1.15"/>
<line x1="1092.61" y1="307.6" x2="1092.61" y2="311" stroke="#2a2a2a" stroke-width="1.15"/>
<line x1="1103.54" y1="307.6" x2="1103.54" y2="311" stroke="#2a2a2a" stroke-width="1.15"/>
<line x1="1114.47" y1="307.6" x2="1114.47" y2="311" stroke="#2a2a2a" stroke-width="1.15"/>
<line x1="1125.4" y1="307.6" x2="1125.4" y2="314.6" stroke="#2a2a2a" stroke-width="1.3"/>
<text x="1124.7" y="325.9" font-family='"Liberation Sans", sans-serif' font-size="10.2" fill="#404040" text-anchor="middle" font-weight="normal" clip-path="url(#edgeclip)">70</text>
<line x1="1136.33" y1="307.6" x2="1136.33" y2="311" stroke="#2a2a2a" stroke-width="1.15"/>
<line x1="1147.26" y1="307.6" x2="1147.26" y2="311" stroke="#2a2a2a" stroke-width="1.15"/>
<line x1="1158.19" y1="307.6" x2="1158.19" y2="311" stroke="#2a2a2a" stroke-width="1.15"/>
<line x1="1169.12" y1="307.6" x2="1169.12" y2="311" stroke="#2a2a2a" stroke-width="1.15"/>
<line x1="1180.05" y1="307.6" x2="1180.05" y2="311" stroke="#2a2a2a" stroke-width="1.15"/>
<line x1="1190.98" y1="307.6" x2="1190.98" y2="311" stroke="#2a2a2a" stroke-width="1.15"/>
<line x1="1201.91" y1="307.6" x2="1201.91" y2="311" stroke="#2a2a2a" stroke-width="1.15"/>
<line x1="1212.84" y1="307.6" x2="1212.84" y2="311" stroke="#2a2a2a" stroke-width="1.15"/>
<line x1="1223.77" y1="307.6" x2="1223.77" y2="311" stroke="#2a2a2a" stroke-width="1.15"/>
<text x="891.4" y="340.2" font-family='"Liberation Sans", sans-serif' font-size="10.8" fill="#404040" text-anchor="start" font-weight="normal">Position [°2Theta]</text>
<text x="624" y="34.2" font-family='"Liberation Sans", sans-serif' font-size="10.35" fill="#404040" text-anchor="start" font-weight="normal">Counts</text>
<text x="696" y="57.4" font-family='"Liberation Sans", sans-serif' font-size="10.3" fill="#404040" text-anchor="start" font-weight="normal">Ti-6Al-4V-2Mo</text>
<text transform="translate(706.5,100.5) scale(0.89,1)" font-family='"Liberation Serif", serif' font-size="12" fill="#222" stroke="#222" stroke-width="0.2">Alpha Ti- 81%</text>
<text transform="translate(706.5,113.3) scale(0.89,1)" font-family='"Liberation Serif", serif' font-size="12" fill="#222" stroke="#222" stroke-width="0.2">Beta Ti- 19%</text>
<rect x="1099.3" y="48.8" width="123" height="128.2" fill="#fff200"/>
<path d="M1160.5,110.6 L1160.5,60.1 A50.5,50.5 0 1 1 1113.55,92.01 Z" fill="#0b2062" stroke="#0a1440" stroke-width="0.9"/>
<path d="M1158.25,107.29 L1111.3,88.7 A50.5,50.5 0 0 1 1158.25,56.79 Z" fill="#fa0000" stroke="#f8d850" stroke-width="1.6" stroke-linejoin="miter"/>
<text x="1135.6" y="78.3" font-family='"Liberation Serif", serif' font-size="8.8" fill="#f4f6fc" text-anchor="middle" font-weight="normal">19%</text>
<text x="1185.4" y="143.4" font-family='"Liberation Serif", serif' font-size="8.8" fill="#f4f6fc" text-anchor="middle" font-weight="normal">81%</text>
<clipPath id="c2"><rect x="76" y="548.4" width="545.6" height="272.6"/></clipPath>
<line x1="133.7" y1="531.6" x2="133.7" y2="548.4" stroke="#d5c096" stroke-width="1.3"/>
<path d="M131.7,525.2 L133.7,530.8 L135.7,525.2" stroke="#4a4a4a" stroke-width="1.35" fill="none" stroke-linejoin="round"/>
<line x1="167.3" y1="531.6" x2="167.3" y2="548.4" stroke="#d5c096" stroke-width="1.3"/>
<line x1="180.5" y1="531.6" x2="180.5" y2="548.4" stroke="#d5c096" stroke-width="1.3"/>
<path d="M178.5,525.2 L180.5,530.8 L182.5,525.2" stroke="#4a4a4a" stroke-width="1.35" fill="none" stroke-linejoin="round"/>
<line x1="186.5" y1="531.6" x2="186.5" y2="548.4" stroke="#d5c096" stroke-width="1.3"/>
<path d="M184.5,525.2 L186.5,530.8 L188.5,525.2" stroke="#4a4a4a" stroke-width="1.35" fill="none" stroke-linejoin="round"/>
<line x1="328.1" y1="531.6" x2="328.1" y2="548.4" stroke="#d5c096" stroke-width="1.3"/>
<line x1="372.1" y1="531.6" x2="372.1" y2="548.4" stroke="#d5c096" stroke-width="1.3"/>
<path d="M370.1,525.2 L372.1,530.8 L374.1,525.2" stroke="#4a4a4a" stroke-width="1.35" fill="none" stroke-linejoin="round"/>
<line x1="443.6" y1="531.6" x2="443.6" y2="548.4" stroke="#d5c096" stroke-width="1.3"/>
<path d="M441.6,525.2 L443.6,530.8 L445.6,525.2" stroke="#4a4a4a" stroke-width="1.35" fill="none" stroke-linejoin="round"/>
<line x1="526" y1="531.6" x2="526" y2="548.4" stroke="#d5c096" stroke-width="1.3"/>
<line x1="536.4" y1="531.6" x2="536.4" y2="548.4" stroke="#d5c096" stroke-width="1.3"/>
<path d="M534.4,525.2 L536.4,530.8 L538.4,525.2" stroke="#4a4a4a" stroke-width="1.35" fill="none" stroke-linejoin="round"/>
<line x1="590.4" y1="531.6" x2="590.4" y2="548.4" stroke="#d5c096" stroke-width="1.3"/>
<path d="M588.4,525.2 L590.4,530.8 L592.4,525.2" stroke="#4a4a4a" stroke-width="1.35" fill="none" stroke-linejoin="round"/>
<line x1="604.5" y1="531.6" x2="604.5" y2="548.4" stroke="#d5c096" stroke-width="1.3"/>
<path d="M602.5,525.2 L604.5,530.8 L606.5,525.2" stroke="#4a4a4a" stroke-width="1.35" fill="none" stroke-linejoin="round"/>
<g clip-path="url(#c2)">
<line x1="131" y1="811.5" x2="131" y2="821" stroke="#50508f" stroke-width="1.1"/>
<line x1="167.6" y1="811.5" x2="167.6" y2="821" stroke="#50508f" stroke-width="1.1"/>
<line x1="188" y1="811.5" x2="188" y2="821" stroke="#50508f" stroke-width="1.1"/>
<line x1="328.7" y1="811.5" x2="328.7" y2="821" stroke="#50508f" stroke-width="1.1"/>
<line x1="439.3" y1="811.5" x2="439.3" y2="821" stroke="#50508f" stroke-width="1.1"/>
<line x1="524.3" y1="811.5" x2="524.3" y2="821" stroke="#50508f" stroke-width="1.1"/>
<line x1="564.6" y1="811.5" x2="564.6" y2="821" stroke="#50508f" stroke-width="1.1"/>
<line x1="586.3" y1="811.5" x2="586.3" y2="821" stroke="#50508f" stroke-width="1.1"/>
<line x1="598.9" y1="811.5" x2="598.9" y2="821" stroke="#50508f" stroke-width="1.1"/>
<line x1="171.1" y1="811.5" x2="171.1" y2="821" stroke="#c06058" stroke-width="1.1"/>
<line x1="360.4" y1="811.5" x2="360.4" y2="821" stroke="#c06058" stroke-width="1.1"/>
<line x1="517.1" y1="811.5" x2="517.1" y2="821" stroke="#c06058" stroke-width="1.1"/>
<line x1="133.9" y1="741" x2="133.9" y2="813.5" stroke="#d5c096" stroke-width="1.2"/>
<line x1="131.1" y1="813.5" x2="136.7" y2="813.5" stroke="#d5c096" stroke-width="1.1"/>
<line x1="166.8" y1="727.7" x2="166.8" y2="813.5" stroke="#d5c096" stroke-width="1.2"/>
<line x1="164" y1="813.5" x2="169.6" y2="813.5" stroke="#d5c096" stroke-width="1.1"/>
<line x1="180.4" y1="745.3" x2="180.4" y2="813.5" stroke="#d5c096" stroke-width="1.2"/>
<line x1="177.6" y1="813.5" x2="183.2" y2="813.5" stroke="#d5c096" stroke-width="1.1"/>
<line x1="186.5" y1="548" x2="186.5" y2="813.5" stroke="#d5c096" stroke-width="1.2"/>
<line x1="183.7" y1="813.5" x2="189.3" y2="813.5" stroke="#d5c096" stroke-width="1.1"/>
<line x1="328" y1="772.4" x2="328" y2="813.5" stroke="#d5c096" stroke-width="1.2"/>
<line x1="325.2" y1="813.5" x2="330.8" y2="813.5" stroke="#d5c096" stroke-width="1.1"/>
<line x1="373" y1="803" x2="373" y2="813.5" stroke="#d5c096" stroke-width="1.2"/>
<line x1="370.2" y1="813.5" x2="375.8" y2="813.5" stroke="#d5c096" stroke-width="1.1"/>
<line x1="443.2" y1="777.8" x2="443.2" y2="813.5" stroke="#d5c096" stroke-width="1.2"/>
<line x1="440.4" y1="813.5" x2="446" y2="813.5" stroke="#d5c096" stroke-width="1.1"/>
<line x1="526" y1="782.5" x2="526" y2="813.5" stroke="#d5c096" stroke-width="1.2"/>
<line x1="523.2" y1="813.5" x2="528.8" y2="813.5" stroke="#d5c096" stroke-width="1.1"/>
<line x1="536.5" y1="798" x2="536.5" y2="813.5" stroke="#d5c096" stroke-width="1.2"/>
<line x1="533.7" y1="813.5" x2="539.3" y2="813.5" stroke="#d5c096" stroke-width="1.1"/>
<line x1="590.6" y1="790.4" x2="590.6" y2="813.5" stroke="#d5c096" stroke-width="1.2"/>
<line x1="587.8" y1="813.5" x2="593.4" y2="813.5" stroke="#d5c096" stroke-width="1.1"/>
<line x1="605.3" y1="795" x2="605.3" y2="813.5" stroke="#d5c096" stroke-width="1.2"/>
<line x1="602.5" y1="813.5" x2="608.1" y2="813.5" stroke="#d5c096" stroke-width="1.1"/>
<path d="M76,811.98 L120,811.83 L125,811.54 L126.25,811.28 L127.25,810.82 L127.75,810.22 L128,809.61 L128.5,806.86 L129,800.63 L129.75,787.7 L130,786.1 L130.25,787.39 L131,798.31 L131.25,800.22 L131.5,800.07 L132,792.96 L132.75,772.28 L133,767.52 L133.25,766.38 L133.5,769.3 L134.75,802.16 L135.25,807.98 L135.5,809.33 L136,810.54 L136.75,811.09 L138.5,811.49 L141.25,811.69 L145.5,811.76 L152.5,811.71 L157.25,811.52 L160,811.17 L161.5,810.64 L162,810.21 L162.5,809.03 L163,805.24 L163.5,795.67 L164.5,767.86 L164.75,766.54 L165.25,770.74 L165.5,771.73 L165.75,769.81 L166.5,752.43 L166.75,749.78 L167,752.03 L167.25,758.87 L168.25,795.91 L168.75,805.09 L169.25,808.6 L169.75,809.72 L170.5,810.23 L171.75,810.48 L173.5,810.38 L174.75,810.01 L175.5,809.45 L176,808.4 L176.25,807.33 L176.75,802.94 L177,799.11 L178,773.78 L178.5,765.09 L178.75,765.33 L179,768.79 L180,793.86 L180.5,801.82 L180.75,803.99 L181.25,805.93 L181.5,806.18 L181.75,806.16 L182.25,805.6 L182.5,805.04 L183,802.85 L183.25,800.68 L183.74,791.87 L184.18,774.67 L184.58,747.47 L185.38,658.16 L185.66,543.4 L186.94,543.4 L187.3,670.58 L188.02,747.65 L188.7,787.21 L189.18,798.85 L189.59,803.26 L189.84,804.69 L190.34,806.3 L190.84,807.22 L191.84,808.4 L193.09,809.35 L194.34,809.97 L195.59,810.4 L199.34,811.11 L204.59,811.52 L212.84,811.76 L240.34,811.94 L305.09,811.96 L317.59,811.85 L322.59,811.52 L324.09,811.11 L324.84,810.6 L325.34,809.8 L325.84,808.04 L326.59,802.02 L327.59,789.2 L327.84,787.34 L328.09,787.1 L328.59,791.25 L329.59,803.91 L330.09,807.67 L330.59,809.62 L331.09,810.52 L331.84,811.08 L332.84,811.4 L335.84,811.75 L342.09,811.91 L360.59,811.93 L367.59,811.75 L368.84,811.49 L369.84,810.9 L370.59,810.08 L372.34,807.39 L372.84,807.01 L373.09,806.99 L373.84,807.62 L375.34,809.99 L376.09,810.84 L377.09,811.47 L378.84,811.79 L387.84,811.95 L419.09,811.95 L430.59,811.87 L435.84,811.64 L438.09,811.29 L439.34,810.75 L440.09,809.81 L440.59,808.41 L441.34,803.96 L442.59,790.43 L443.09,787.11 L443.34,787.19 L443.59,788.49 L445.09,804.2 L445.84,808.52 L446.34,809.87 L447.09,810.77 L448.09,811.23 L449.59,811.53 L453.09,811.79 L459.84,811.92 L499.84,811.95 L515.34,811.82 L518.59,811.67 L520.84,811.37 L521.84,811.05 L522.34,810.72 L522.84,810.1 L523.34,808.96 L524.09,805.65 L525.59,794.94 L525.84,794.05 L526.09,793.94 L526.59,795.94 L527.59,803.5 L528.34,807.73 L529.09,809.85 L529.59,810.49 L530.34,810.9 L531.09,811.03 L531.84,810.98 L532.59,810.68 L533.09,810.26 L534.09,808.7 L535.84,804.47 L536.34,803.87 L536.59,803.85 L536.84,804.02 L537.34,804.87 L538.84,808.68 L539.59,810.06 L540.59,811.07 L541.34,811.4 L542.09,811.57 L544.84,811.77 L549.84,811.86 L557.84,811.85 L561.34,811.71 L562.59,811.53 L563.84,811.14 L564.84,810.65 L567.09,809.23 L568.09,808.93 L568.59,808.96 L569.34,809.24 L572.34,811.02 L574.34,811.58 L578.84,811.75 L584.34,811.49 L585.59,811.28 L586.59,810.9 L587.34,810.17 L587.84,809.13 L588.34,807.31 L588.84,804.48 L590.09,794.98 L590.34,793.8 L590.59,793.35 L590.84,793.73 L591.09,794.85 L592.34,804.3 L592.84,807.15 L593.59,809.59 L594.09,810.36 L594.59,810.75 L596.09,811.16 L598.59,811.17 L600.09,810.78 L601.09,809.97 L601.84,808.73 L602.34,807.48 L604.59,799.02 L605.09,798.01 L605.34,797.91 L605.59,798.11 L606.09,799.28 L607.59,805.28 L608.34,807.77 L609.09,809.45 L610.09,810.66 L611.34,811.25 L613.09,811.54 L616.34,811.75 L621.59,811.87" stroke="#d42b2b" stroke-width="2" fill="none" stroke-linejoin="round"/>
<path d="M76,811.97 L109.25,811.9 L121.75,811.72 L125.25,811.5 L127.5,811.16 L129,810.65 L130,809.89 L130.5,809.05 L131,807.24 L131.5,803.27 L131.75,799.95 L132.25,789.72 L133.5,751.95 L133.75,748.07 L134,747.7 L134.5,757 L135.5,788.4 L136,799.13 L136.25,802.67 L136.75,806.94 L137.25,808.9 L137.75,809.8 L138.25,810.28 L139,810.7 L141.25,811.28 L145,811.57 L150.75,811.64 L156.75,811.49 L160.25,811.17 L162.25,810.64 L163,810.21 L163.5,809.67 L164,808.48 L164.25,807.37 L164.75,803.23 L165,799.78 L166.25,769.66 L166.5,764.76 L166.75,762.5 L167,763.47 L167.25,767.4 L168.5,797.9 L169,804.58 L169.5,807.8 L170,809.15 L170.75,809.87 L172.25,810.27 L174,810.25 L176,809.84 L177.75,809.04 L178.75,808.19 L179.5,806.83 L180,804.75 L180.25,802.99 L180.75,797.28 L182,773.03 L182.25,769.99 L182.5,769.06 L182.75,770.23 L183.5,777.3 L183.75,776.95 L184.03,772.62 L184.27,764.55 L184.83,726.72 L185.51,649.19 L185.83,543.4 L187.19,543.4 L187.35,623.56 L187.59,663.8 L188.35,746.08 L188.71,770.94 L189.07,786.7 L189.51,797.14 L189.76,800.36 L190.26,803.78 L190.76,805.41 L191.51,806.8 L192.51,808 L194.01,809.16 L195.26,809.79 L196.76,810.3 L200.76,811.05 L206.51,811.49 L215.01,811.74 L243.76,811.93 L305.26,811.94 L317.26,811.79 L320.26,811.63 L322.26,811.36 L323.76,810.88 L324.51,810.3 L325.01,809.48 L325.51,807.77 L326.26,801.94 L327.51,783.64 L327.76,781.14 L328.01,780.28 L328.26,781.28 L328.51,783.89 L329.76,802.16 L330.51,807.86 L331.01,809.52 L331.76,810.56 L333.01,811.18 L335.26,811.58 L340.51,811.84 L351.26,811.92 L362.76,811.86 L367.26,811.62 L368.51,811.24 L369.51,810.48 L370.51,809.02 L372.26,805.56 L372.76,805.04 L373.01,804.97 L373.26,805.05 L373.76,805.59 L375.51,809.06 L376.51,810.5 L377.01,810.95 L377.76,811.36 L379.26,811.69 L382.76,811.86 L389.51,811.93 L424.01,811.91 L433.01,811.72 L435.51,811.53 L437.26,811.25 L438.51,810.81 L439.26,810.21 L440.01,808.78 L440.51,806.88 L441.26,801.76 L442.76,786.57 L443.01,785.29 L443.26,785.01 L443.51,785.79 L443.76,787.48 L445.26,802.78 L445.76,806.2 L446.26,808.38 L446.76,809.64 L447.51,810.57 L448.51,811.07 L450.26,811.45 L454.26,811.76 L461.51,811.9 L502.51,811.91 L515.01,811.7 L518.26,811.45 L520.26,811.07 L521.26,810.63 L522.01,809.88 L522.51,808.93 L523.01,807.39 L524.01,801.81 L525.26,791.7 L525.76,789.16 L526.01,788.82 L526.26,789.2 L526.76,791.79 L528.01,801.84 L528.76,806.25 L529.26,808.1 L529.76,809.23 L530.26,809.88 L531.01,810.28 L531.76,810.25 L532.26,810.02 L532.76,809.58 L533.26,808.88 L534.01,807.31 L535.76,802.51 L536.26,801.78 L536.51,801.7 L536.76,801.82 L537.26,802.62 L539.01,807.63 L540.01,809.71 L541.01,810.8 L541.76,811.19 L542.51,811.4 L545.01,811.65 L550.01,811.8 L570.26,811.81 L580.26,811.57 L583.01,811.35 L585.01,810.99 L586.01,810.56 L586.76,809.84 L587.26,808.94 L587.76,807.51 L588.51,804.07 L590.01,794.51 L590.51,793.01 L590.76,793.07 L591.26,794.78 L592.76,804.16 L593.26,806.46 L593.76,808.04 L594.26,809.01 L595.01,809.72 L595.76,809.93 L596.76,809.84 L597.76,809.43 L598.76,808.61 L599.51,807.63 L600.26,806.25 L601.51,802.98 L604.01,794.4 L604.76,792.76 L605.26,792.38 L605.76,792.67 L606.26,793.57 L607.01,795.77 L609.51,804.36 L610.51,806.8 L611.76,808.81 L613.01,809.94 L614.76,810.72 L617.51,811.22 L621.51,811.53" stroke="#1c178e" stroke-width="2.1" fill="none" stroke-linejoin="round" stroke-opacity="0.87"/>
</g>
<path d="M76,821 L76,548.4 L621.6,548.4" stroke="#2a2a2a" stroke-width="2.1" fill="none"/>
<line x1="75" y1="821" x2="621.6" y2="821" stroke="#2a2a2a" stroke-width="2.1"/>
<line x1="70.5" y1="820.3" x2="76" y2="820.3" stroke="#2a2a2a" stroke-width="1.3"/>
<text x="65.7" y="823.9" font-family='"Liberation Sans", sans-serif' font-size="10.1" fill="#404040" text-anchor="end" font-weight="normal">0</text>
<line x1="70.5" y1="733.2" x2="76" y2="733.2" stroke="#2a2a2a" stroke-width="1.3"/>
<text x="65.7" y="736.8" font-family='"Liberation Sans", sans-serif' font-size="10.1" fill="#404040" text-anchor="end" font-weight="normal">2000</text>
<line x1="70.5" y1="646.5" x2="76" y2="646.5" stroke="#2a2a2a" stroke-width="1.3"/>
<text x="65.7" y="650.1" font-family='"Liberation Sans", sans-serif' font-size="10.1" fill="#404040" text-anchor="end" font-weight="normal">4000</text>
<line x1="70.5" y1="560" x2="76" y2="560" stroke="#2a2a2a" stroke-width="1.3"/>
<text x="65.7" y="563.6" font-family='"Liberation Sans", sans-serif' font-size="10.1" fill="#404040" text-anchor="end" font-weight="normal">6000</text>
<line x1="85.23" y1="821" x2="85.23" y2="824.4" stroke="#2a2a2a" stroke-width="1.15"/>
<line x1="96.26" y1="821" x2="96.26" y2="824.4" stroke="#2a2a2a" stroke-width="1.15"/>
<line x1="107.29" y1="821" x2="107.29" y2="824.4" stroke="#2a2a2a" stroke-width="1.15"/>
<line x1="118.32" y1="821" x2="118.32" y2="824.4" stroke="#2a2a2a" stroke-width="1.15"/>
<line x1="129.35" y1="821" x2="129.35" y2="824.4" stroke="#2a2a2a" stroke-width="1.15"/>
<line x1="140.38" y1="821" x2="140.38" y2="824.4" stroke="#2a2a2a" stroke-width="1.15"/>
<line x1="151.41" y1="821" x2="151.41" y2="824.4" stroke="#2a2a2a" stroke-width="1.15"/>
<line x1="162.44" y1="821" x2="162.44" y2="824.4" stroke="#2a2a2a" stroke-width="1.15"/>
<line x1="173.47" y1="821" x2="173.47" y2="824.4" stroke="#2a2a2a" stroke-width="1.15"/>
<line x1="184.5" y1="821" x2="184.5" y2="828" stroke="#2a2a2a" stroke-width="1.3"/>
<text x="183.8" y="839.6" font-family='"Liberation Sans", sans-serif' font-size="10.3" fill="#404040" text-anchor="middle" font-weight="normal" clip-path="url(#edgeclip)">40</text>
<line x1="195.53" y1="821" x2="195.53" y2="824.4" stroke="#2a2a2a" stroke-width="1.15"/>
<line x1="206.56" y1="821" x2="206.56" y2="824.4" stroke="#2a2a2a" stroke-width="1.15"/>
<line x1="217.59" y1="821" x2="217.59" y2="824.4" stroke="#2a2a2a" stroke-width="1.15"/>
<line x1="228.62" y1="821" x2="228.62" y2="824.4" stroke="#2a2a2a" stroke-width="1.15"/>
<line x1="239.65" y1="821" x2="239.65" y2="824.4" stroke="#2a2a2a" stroke-width="1.15"/>
<line x1="250.68" y1="821" x2="250.68" y2="824.4" stroke="#2a2a2a" stroke-width="1.15"/>
<line x1="261.71" y1="821" x2="261.71" y2="824.4" stroke="#2a2a2a" stroke-width="1.15"/>
<line x1="272.74" y1="821" x2="272.74" y2="824.4" stroke="#2a2a2a" stroke-width="1.15"/>
<line x1="283.77" y1="821" x2="283.77" y2="824.4" stroke="#2a2a2a" stroke-width="1.15"/>
<line x1="294.8" y1="821" x2="294.8" y2="828" stroke="#2a2a2a" stroke-width="1.3"/>
<text x="294.1" y="839.6" font-family='"Liberation Sans", sans-serif' font-size="10.3" fill="#404040" text-anchor="middle" font-weight="normal" clip-path="url(#edgeclip)">50</text>
<line x1="305.83" y1="821" x2="305.83" y2="824.4" stroke="#2a2a2a" stroke-width="1.15"/>
<line x1="316.86" y1="821" x2="316.86" y2="824.4" stroke="#2a2a2a" stroke-width="1.15"/>
<line x1="327.89" y1="821" x2="327.89" y2="824.4" stroke="#2a2a2a" stroke-width="1.15"/>
<line x1="338.92" y1="821" x2="338.92" y2="824.4" stroke="#2a2a2a" stroke-width="1.15"/>
<line x1="349.95" y1="821" x2="349.95" y2="824.4" stroke="#2a2a2a" stroke-width="1.15"/>
<line x1="360.98" y1="821" x2="360.98" y2="824.4" stroke="#2a2a2a" stroke-width="1.15"/>
<line x1="372.01" y1="821" x2="372.01" y2="824.4" stroke="#2a2a2a" stroke-width="1.15"/>
<line x1="383.04" y1="821" x2="383.04" y2="824.4" stroke="#2a2a2a" stroke-width="1.15"/>
<line x1="394.07" y1="821" x2="394.07" y2="824.4" stroke="#2a2a2a" stroke-width="1.15"/>
<line x1="405.1" y1="821" x2="405.1" y2="828" stroke="#2a2a2a" stroke-width="1.3"/>
<text x="404.4" y="839.6" font-family='"Liberation Sans", sans-serif' font-size="10.3" fill="#404040" text-anchor="middle" font-weight="normal" clip-path="url(#edgeclip)">60</text>
<line x1="416.13" y1="821" x2="416.13" y2="824.4" stroke="#2a2a2a" stroke-width="1.15"/>
<line x1="427.16" y1="821" x2="427.16" y2="824.4" stroke="#2a2a2a" stroke-width="1.15"/>
<line x1="438.19" y1="821" x2="438.19" y2="824.4" stroke="#2a2a2a" stroke-width="1.15"/>
<line x1="449.22" y1="821" x2="449.22" y2="824.4" stroke="#2a2a2a" stroke-width="1.15"/>
<line x1="460.25" y1="821" x2="460.25" y2="824.4" stroke="#2a2a2a" stroke-width="1.15"/>
<line x1="471.28" y1="821" x2="471.28" y2="824.4" stroke="#2a2a2a" stroke-width="1.15"/>
<line x1="482.31" y1="821" x2="482.31" y2="824.4" stroke="#2a2a2a" stroke-width="1.15"/>
<line x1="493.34" y1="821" x2="493.34" y2="824.4" stroke="#2a2a2a" stroke-width="1.15"/>
<line x1="504.37" y1="821" x2="504.37" y2="824.4" stroke="#2a2a2a" stroke-width="1.15"/>
<line x1="515.4" y1="821" x2="515.4" y2="828" stroke="#2a2a2a" stroke-width="1.3"/>
<text x="514.7" y="839.6" font-family='"Liberation Sans", sans-serif' font-size="10.3" fill="#404040" text-anchor="middle" font-weight="normal" clip-path="url(#edgeclip)">70</text>
<line x1="526.43" y1="821" x2="526.43" y2="824.4" stroke="#2a2a2a" stroke-width="1.15"/>
<line x1="537.46" y1="821" x2="537.46" y2="824.4" stroke="#2a2a2a" stroke-width="1.15"/>
<line x1="548.49" y1="821" x2="548.49" y2="824.4" stroke="#2a2a2a" stroke-width="1.15"/>
<line x1="559.52" y1="821" x2="559.52" y2="824.4" stroke="#2a2a2a" stroke-width="1.15"/>
<line x1="570.55" y1="821" x2="570.55" y2="824.4" stroke="#2a2a2a" stroke-width="1.15"/>
<line x1="581.58" y1="821" x2="581.58" y2="824.4" stroke="#2a2a2a" stroke-width="1.15"/>
<line x1="592.61" y1="821" x2="592.61" y2="824.4" stroke="#2a2a2a" stroke-width="1.15"/>
<line x1="603.64" y1="821" x2="603.64" y2="824.4" stroke="#2a2a2a" stroke-width="1.15"/>
<line x1="614.67" y1="821" x2="614.67" y2="824.4" stroke="#2a2a2a" stroke-width="1.15"/>
<text x="279.3" y="853.7" font-family='"Liberation Sans", sans-serif' font-size="11" fill="#404040" text-anchor="start" font-weight="normal">Position [°2Theta]</text>
<text x="8.8" y="544.2" font-family='"Liberation Sans", sans-serif' font-size="10.75" fill="#404040" text-anchor="start" font-weight="normal">Counts</text>
<text x="79.3" y="573.8" font-family='"Liberation Sans", sans-serif' font-size="10.45" fill="#404040" text-anchor="start" font-weight="normal">Ti-6Al-4V-4Mo</text>
<text transform="translate(86.5,627.7) scale(0.89,1)" font-family='"Liberation Serif", serif' font-size="12" fill="#222" stroke="#222" stroke-width="0.2">Alpha Ti- 72%</text>
<text transform="translate(86.5,640) scale(0.89,1)" font-family='"Liberation Serif", serif' font-size="12" fill="#222" stroke="#222" stroke-width="0.2">Beta Ti- 28%</text>
<rect x="495.2" y="557.1" width="117.4" height="123.6" fill="#fff200"/>
<path d="M555,615.5 L555,567.1 A48.4,48.4 0 1 1 507.46,624.57 Z" fill="#0b2062" stroke="#0a1440" stroke-width="0.9"/>
<path d="M553.46,614.23 L505.92,623.29 A48.4,48.4 0 0 1 553.46,565.83 Z" fill="#fa0000" stroke="#f8d850" stroke-width="1.6" stroke-linejoin="miter"/>
<text x="524.2" y="595.9" font-family='"Liberation Serif", serif' font-size="8.8" fill="#f4f6fc" text-anchor="middle" font-weight="normal">28%</text>
<text x="584" y="641.9" font-family='"Liberation Serif", serif' font-size="8.8" fill="#f4f6fc" text-anchor="middle" font-weight="normal">72%</text>
<clipPath id="c3"><rect x="691" y="554.6" width="542" height="269.9"/></clipPath>
<line x1="748.6" y1="537.8" x2="748.6" y2="554.6" stroke="#d5c096" stroke-width="1.3"/>
<line x1="784.4" y1="537.8" x2="784.4" y2="554.6" stroke="#d5c096" stroke-width="1.3"/>
<line x1="798.3" y1="537.8" x2="798.3" y2="554.6" stroke="#d5c096" stroke-width="1.3"/>
<line x1="809.6" y1="537.8" x2="809.6" y2="554.6" stroke="#d5c096" stroke-width="1.3"/>
<path d="M807.6,531.4 L809.6,537 L811.6,531.4" stroke="#4a4a4a" stroke-width="1.35" fill="none" stroke-linejoin="round"/>
<line x1="947.4" y1="537.8" x2="947.4" y2="554.6" stroke="#d5c096" stroke-width="1.3"/>
<path d="M945.4,531.4 L947.4,537 L949.4,531.4" stroke="#4a4a4a" stroke-width="1.35" fill="none" stroke-linejoin="round"/>
<line x1="989" y1="537.8" x2="989" y2="554.6" stroke="#d5c096" stroke-width="1.3"/>
<path d="M987,531.4 L989,537 L991,531.4" stroke="#4a4a4a" stroke-width="1.35" fill="none" stroke-linejoin="round"/>
<line x1="1058.7" y1="537.8" x2="1058.7" y2="554.6" stroke="#d5c096" stroke-width="1.3"/>
<path d="M1056.7,531.4 L1058.7,537 L1060.7,531.4" stroke="#4a4a4a" stroke-width="1.35" fill="none" stroke-linejoin="round"/>
<line x1="1138" y1="537.8" x2="1138" y2="554.6" stroke="#d5c096" stroke-width="1.3"/>
<path d="M1136,531.4 L1138,537 L1140,531.4" stroke="#4a4a4a" stroke-width="1.35" fill="none" stroke-linejoin="round"/>
<line x1="1199.2" y1="537.8" x2="1199.2" y2="554.6" stroke="#d5c096" stroke-width="1.3"/>
<line x1="1214.3" y1="537.8" x2="1214.3" y2="554.6" stroke="#d5c096" stroke-width="1.3"/>
<path d="M1212.3,531.4 L1214.3,537 L1216.3,531.4" stroke="#4a4a4a" stroke-width="1.35" fill="none" stroke-linejoin="round"/>
<g clip-path="url(#c3)">
<line x1="745.2" y1="817.9" x2="745.2" y2="824.5" stroke="#50508f" stroke-width="1.1"/>
<line x1="782" y1="817.9" x2="782" y2="824.5" stroke="#50508f" stroke-width="1.1"/>
<line x1="801.1" y1="757.2" x2="801.1" y2="824.5" stroke="#50508f" stroke-width="1.1"/>
<line x1="939.9" y1="817.9" x2="939.9" y2="824.5" stroke="#50508f" stroke-width="1.1"/>
<line x1="1048.9" y1="817.9" x2="1048.9" y2="824.5" stroke="#50508f" stroke-width="1.1"/>
<line x1="1132.4" y1="817.9" x2="1132.4" y2="824.5" stroke="#50508f" stroke-width="1.1"/>
<line x1="1171.4" y1="817.9" x2="1171.4" y2="824.5" stroke="#50508f" stroke-width="1.1"/>
<line x1="1193.6" y1="817.9" x2="1193.6" y2="824.5" stroke="#50508f" stroke-width="1.1"/>
<line x1="1206.1" y1="817.9" x2="1206.1" y2="824.5" stroke="#50508f" stroke-width="1.1"/>
<line x1="784" y1="817.9" x2="784" y2="824.5" stroke="#c06058" stroke-width="1.1"/>
<line x1="971.6" y1="817.9" x2="971.6" y2="824.5" stroke="#c06058" stroke-width="1.1"/>
<line x1="1125.5" y1="817.9" x2="1125.5" y2="824.5" stroke="#c06058" stroke-width="1.1"/>
<line x1="748.1" y1="790" x2="748.1" y2="819.9" stroke="#d5c096" stroke-width="1.2"/>
<line x1="745.3" y1="819.9" x2="750.9" y2="819.9" stroke="#d5c096" stroke-width="1.1"/>
<line x1="784.3" y1="739.1" x2="784.3" y2="819.9" stroke="#d5c096" stroke-width="1.2"/>
<line x1="781.5" y1="819.9" x2="787.1" y2="819.9" stroke="#d5c096" stroke-width="1.1"/>
<line x1="797.9" y1="770" x2="797.9" y2="819.9" stroke="#d5c096" stroke-width="1.2"/>
<line x1="795.1" y1="819.9" x2="800.7" y2="819.9" stroke="#d5c096" stroke-width="1.1"/>
<line x1="809.7" y1="600" x2="809.7" y2="819.9" stroke="#d5c096" stroke-width="1.2"/>
<line x1="806.9" y1="819.9" x2="812.5" y2="819.9" stroke="#d5c096" stroke-width="1.1"/>
<line x1="947.4" y1="800" x2="947.4" y2="819.9" stroke="#d5c096" stroke-width="1.2"/>
<line x1="944.6" y1="819.9" x2="950.2" y2="819.9" stroke="#d5c096" stroke-width="1.1"/>
<line x1="989" y1="812" x2="989" y2="819.9" stroke="#d5c096" stroke-width="1.2"/>
<line x1="986.2" y1="819.9" x2="991.8" y2="819.9" stroke="#d5c096" stroke-width="1.1"/>
<line x1="1058.4" y1="788.5" x2="1058.4" y2="819.9" stroke="#d5c096" stroke-width="1.2"/>
<line x1="1055.6" y1="819.9" x2="1061.2" y2="819.9" stroke="#d5c096" stroke-width="1.1"/>
<line x1="1138.6" y1="795.7" x2="1138.6" y2="819.9" stroke="#d5c096" stroke-width="1.2"/>
<line x1="1135.8" y1="819.9" x2="1141.4" y2="819.9" stroke="#d5c096" stroke-width="1.1"/>
<line x1="1199.2" y1="800" x2="1199.2" y2="819.9" stroke="#d5c096" stroke-width="1.2"/>
<line x1="1196.4" y1="819.9" x2="1202" y2="819.9" stroke="#d5c096" stroke-width="1.1"/>
<line x1="1214" y1="805" x2="1214" y2="819.9" stroke="#d5c096" stroke-width="1.2"/>
<line x1="1211.2" y1="819.9" x2="1216.8" y2="819.9" stroke="#d5c096" stroke-width="1.1"/>
<path d="M691,818.34 L720.75,818.26 L733.75,818.08 L737.5,817.89 L740,817.62 L741.75,817.23 L743,816.61 L743.75,815.69 L744.25,814.47 L744.75,812.32 L745.25,808.8 L746,800.19 L747.5,776.8 L747.75,774.4 L748,773.19 L748.25,773.3 L748.75,777.27 L750,796.43 L750.75,804.67 L751.25,807.3 L752.25,809.29 L753.75,814.91 L754.5,816.44 L755,816.91 L755.5,817.16 L757,817.51 L760,817.78 L764.25,817.89 L770.5,817.82 L775.25,817.59 L778.25,817.2 L780,816.6 L780.75,815.83 L781.25,814.35 L781.75,810.63 L782,807.29 L782.5,796.48 L783.5,764.52 L783.75,759.19 L784,757.23 L784.25,759.12 L784.5,764.37 L785.75,802.01 L786.25,809.76 L786.75,812.97 L787,813.42 L787.25,813.29 L787.5,812.62 L788.75,804.51 L789,803.93 L789.25,804.49 L790.5,812.56 L790.75,813.33 L791,813.68 L791.25,813.63 L791.5,813.15 L792,810.58 L792.25,808.32 L793,798.73 L793.25,796.12 L793.5,795.02 L793.75,795.8 L794.75,805.6 L795,806.32 L795.25,805.48 L795.75,798.22 L796.75,766.04 L797,759.44 L797.25,756.33 L797.5,757.57 L797.75,762.79 L798.75,795.3 L799.25,805 L799.5,807.6 L800,809.93 L800.25,810.27 L800.5,810.32 L800.75,810.2 L801.25,809.67 L801.75,808.86 L802.5,807.12 L803,805.45 L803.5,803.14 L804,799.8 L804.75,791.39 L805.5,775.78 L806.25,748.68 L806.75,722.64 L808.5,603.66 L809,585.01 L809.25,583.34 L809.5,587.23 L810,609.37 L811.25,697.4 L812,741.7 L812.5,763.19 L813.25,784.47 L813.75,793.12 L814.25,798.84 L814.75,802.66 L815.5,806.33 L816.5,809.31 L817.75,811.64 L819.25,813.42 L821.25,814.88 L822.75,815.59 L824.5,816.18 L828.75,817.02 L834.75,817.58 L843.5,817.94 L863.5,818.21 L901.5,818.33 L935,818.31 L940,818.23 L942.5,818.06 L943.25,817.91 L943.75,817.65 L944.25,816.86 L944.5,816 L945,812.54 L946,799.58 L946.25,797.57 L946.5,797.36 L946.75,799.01 L947.75,811.8 L948.25,815.25 L948.5,815.89 L948.75,815.92 L949,815.35 L949.25,814.2 L950.25,805.6 L950.5,804.05 L950.75,803.68 L951,804.61 L952,813.56 L952.5,816.34 L953,817.51 L953.5,817.9 L954,818.04 L958,818.28 L968.5,818.33 L979.5,818.26 L983.5,818.03 L984.75,817.63 L985.75,816.85 L986.5,815.86 L988.25,812.89 L988.75,812.43 L989,812.37 L989.25,812.43 L989.75,812.89 L991.5,815.86 L992.5,817.1 L993.75,817.85 L995.25,818.13 L1003.5,818.33 L1031.25,818.36 L1045.5,818.29 L1051.5,818.06 L1053.25,817.81 L1054.25,817.47 L1055,816.73 L1055.5,815.6 L1056,813.51 L1056.5,810.09 L1058,795.67 L1058.25,794.57 L1058.5,794.47 L1059,797.14 L1060,807.38 L1060.75,813.23 L1061.25,815.44 L1061.75,816.65 L1062.25,817.26 L1063,817.67 L1064.5,817.97 L1066.75,818.16 L1075.75,818.33 L1117.25,818.33 L1125.5,818.24 L1130,818.07 L1132.5,817.77 L1133.75,817.36 L1134.5,816.69 L1135.25,815.11 L1135.75,813.16 L1136.25,810.24 L1137.75,797.25 L1138.25,794.1 L1138.5,793.44 L1138.75,793.51 L1139.25,795.75 L1140.75,808.78 L1141.5,813.39 L1142,815.26 L1142.5,816.38 L1143.25,817.23 L1144.25,817.66 L1147,818.04 L1151.5,818.22 L1162.75,818.29 L1170,818.18 L1171.5,818.02 L1172.75,817.73 L1174,817.23 L1176.25,816.05 L1177.25,815.81 L1178.5,816.1 L1181.5,817.57 L1183.25,817.98 L1185.25,818.11 L1188.25,818.09 L1191,817.95 L1192.5,817.73 L1193.25,817.48 L1194,817.01 L1194.75,816.16 L1195.25,815.29 L1196.25,812.64 L1198.25,805.34 L1198.75,804.18 L1199,803.89 L1199.25,803.82 L1199.5,803.98 L1200,804.91 L1202.25,812.92 L1203,814.92 L1203.75,816.23 L1204.75,817.17 L1205.75,817.57 L1207.5,817.74 L1209.25,817.62 L1210,817.35 L1210.5,816.95 L1211,816.16 L1211.5,814.76 L1212.25,811.16 L1213.5,803.42 L1213.75,802.56 L1214,802.27 L1214.25,802.57 L1214.5,803.43 L1216.25,813.84 L1217,816.26 L1217.75,817.32 L1218.25,817.63 L1219,817.86 L1221.25,818.11 L1233,818.34" stroke="#d42b2b" stroke-width="2" fill="none" stroke-linejoin="round"/>
<path d="M691,818.2 L714,817.94 L721.25,817.71 L726.5,817.4 L730.5,816.97 L733.5,816.39 L735.5,815.63 L737,814.53 L738.25,812.9 L739.25,810.84 L740.25,807.85 L741,804.86 L741.75,801.17 L742.75,795.15 L746.25,770.02 L746.75,767.44 L747.25,765.61 L747.75,764.65 L748,764.52 L748.25,764.64 L748.75,765.59 L749.25,767.42 L749.75,769.98 L753.25,795.05 L754.25,801.05 L755.25,805.79 L756.25,809.31 L757.25,811.78 L758.5,813.76 L759.25,814.52 L760,815.08 L762,815.94 L765,816.49 L769.5,816.79 L774.25,816.73 L777.25,816.4 L779.5,815.79 L780.75,815 L781.5,813.8 L782.25,810.73 L783,803.5 L783.5,795.28 L784.75,767.96 L785.25,761.77 L785.5,761.52 L785.75,763.31 L786,766.87 L787.25,793.68 L787.75,801.98 L788.5,809.21 L788.75,810.49 L789.25,811.91 L789.5,812.21 L789.75,812.3 L790,812.24 L790.75,811.25 L791.5,809.29 L792.75,805.17 L793.25,804.11 L793.5,803.9 L793.75,803.92 L794.25,804.59 L795.75,807.92 L796,808.15 L796.25,808.16 L796.5,807.9 L796.75,807.31 L797.25,804.96 L797.75,800.77 L799.25,781.43 L799.75,778.13 L800,778.17 L800.5,781.38 L801.5,792.44 L802,796.62 L802.5,798.93 L802.75,799.38 L803,799.42 L803.25,799.07 L803.75,797.34 L804.25,794.22 L805,786.19 L805.75,771.9 L806.25,757.19 L807,724.87 L807.5,695.83 L809.25,573.92 L809.75,554.66 L810,552.02 L810.25,554.53 L810.75,573.56 L812.5,695.14 L813.25,736.56 L814,764.82 L814.75,782.26 L815.25,789.66 L815.75,794.84 L816.5,800.01 L817.5,804.3 L818.75,807.69 L820,809.98 L821.75,812.14 L823.75,813.73 L825.5,814.67 L827.25,815.35 L829.25,815.93 L831.75,816.44 L838,817.18 L846.75,817.67 L862.25,818.02 L887.75,818.21 L929,818.27 L940.75,818.05 L943.25,817.67 L944,817.24 L944.5,816.61 L945,815.47 L945.5,813.63 L947,805.71 L947.25,805.04 L947.5,804.89 L947.75,805.27 L948,806.05 L948.75,809.04 L949.25,810.13 L949.5,810.22 L949.75,810.05 L950.5,809.17 L950.75,809.31 L951,809.83 L952.25,814.82 L953,816.75 L953.75,817.54 L955.25,817.95 L960.25,818.21 L971.25,818.27 L979.75,818.16 L983,817.89 L984.25,817.43 L985.25,816.63 L986.25,815.26 L988,812.15 L988.5,811.56 L989,811.34 L989.5,811.56 L990,812.16 L992,815.66 L993,816.88 L994.25,817.67 L996,818.05 L1004,818.28 L1027.75,818.31 L1042.25,818.21 L1049,817.94 L1051.5,817.6 L1053,817.09 L1054,816.18 L1054.75,814.65 L1055.5,811.8 L1056,808.96 L1057.75,795.92 L1058.25,794.07 L1058.5,794.01 L1059,795.65 L1060.75,808.63 L1061.75,813.7 L1062.25,815.16 L1062.75,816.1 L1063.5,816.89 L1064.5,817.39 L1066.5,817.79 L1069.25,818.03 L1079.5,818.26 L1112.75,818.24 L1121,818.1 L1126.25,817.85 L1129.5,817.45 L1131.5,816.83 L1132.25,816.34 L1132.75,815.84 L1133.75,814.06 L1134.5,811.7 L1135.25,808.15 L1137.5,792.27 L1138,789.61 L1138.5,788.39 L1138.75,788.43 L1139,788.92 L1139.5,791.07 L1141.5,805.4 L1142.25,809.72 L1142.75,811.89 L1143.5,814.18 L1144.25,815.57 L1145.25,816.56 L1146.5,817.14 L1149.25,817.66 L1153.75,817.99 L1160.75,818.15 L1171.25,818.18 L1179.75,818.08 L1185.25,817.86 L1188.75,817.52 L1191,816.95 L1192,816.38 L1192.75,815.66 L1193.5,814.57 L1194.25,812.96 L1195.5,808.89 L1198,797.68 L1198.75,795.62 L1199,795.33 L1199.25,795.25 L1199.75,795.78 L1200.5,798.02 L1202.5,807.12 L1203.75,811.69 L1204.25,813.02 L1205,814.5 L1205.5,815.2 L1206.25,815.92 L1207.25,816.41 L1208.5,816.5 L1209.5,816.06 L1210.25,815.18 L1211,813.59 L1211.5,812.08 L1213.25,805.52 L1213.75,804.49 L1214,804.37 L1214.25,804.52 L1214.75,805.6 L1217,813.94 L1217.75,815.63 L1218.75,816.85 L1220,817.47 L1222.25,817.84 L1226.25,818.08 L1233,818.23" stroke="#1c178e" stroke-width="2.1" fill="none" stroke-linejoin="round" stroke-opacity="0.87"/>
</g>
<path d="M691,824.5 L691,554.6 L1233,554.6" stroke="#2a2a2a" stroke-width="2.1" fill="none"/>
<line x1="690" y1="824.5" x2="1233" y2="824.5" stroke="#2a2a2a" stroke-width="2.1"/>
<line x1="1233" y1="553.6" x2="1233" y2="825.5" stroke="#2a2a2a" stroke-width="2.1"/>
<line x1="685.2" y1="823.4" x2="691" y2="823.4" stroke="#2a2a2a" stroke-width="1.3"/>
<text x="680.7" y="827" font-family='"Liberation Sans", sans-serif' font-size="10" fill="#404040" text-anchor="end" font-weight="normal">0</text>
<line x1="685.2" y1="752.4" x2="691" y2="752.4" stroke="#2a2a2a" stroke-width="1.3"/>
<text x="680.7" y="756" font-family='"Liberation Sans", sans-serif' font-size="10" fill="#404040" text-anchor="end" font-weight="normal">2000</text>
<line x1="685.2" y1="680.2" x2="691" y2="680.2" stroke="#2a2a2a" stroke-width="1.3"/>
<text x="680.7" y="683.8" font-family='"Liberation Sans", sans-serif' font-size="10" fill="#404040" text-anchor="end" font-weight="normal">4000</text>
<line x1="685.2" y1="608.7" x2="691" y2="608.7" stroke="#2a2a2a" stroke-width="1.3"/>
<text x="680.7" y="612.3" font-family='"Liberation Sans", sans-serif' font-size="10" fill="#404040" text-anchor="end" font-weight="normal">6000</text>
<line x1="700.26" y1="824.5" x2="700.26" y2="827.9" stroke="#2a2a2a" stroke-width="1.15"/>
<line x1="711.12" y1="824.5" x2="711.12" y2="827.9" stroke="#2a2a2a" stroke-width="1.15"/>
<line x1="721.98" y1="824.5" x2="721.98" y2="827.9" stroke="#2a2a2a" stroke-width="1.15"/>
<line x1="732.84" y1="824.5" x2="732.84" y2="827.9" stroke="#2a2a2a" stroke-width="1.15"/>
<line x1="743.7" y1="824.5" x2="743.7" y2="827.9" stroke="#2a2a2a" stroke-width="1.15"/>
<line x1="754.56" y1="824.5" x2="754.56" y2="827.9" stroke="#2a2a2a" stroke-width="1.15"/>
<line x1="765.42" y1="824.5" x2="765.42" y2="827.9" stroke="#2a2a2a" stroke-width="1.15"/>
<line x1="776.28" y1="824.5" x2="776.28" y2="827.9" stroke="#2a2a2a" stroke-width="1.15"/>
<line x1="787.14" y1="824.5" x2="787.14" y2="827.9" stroke="#2a2a2a" stroke-width="1.15"/>
<line x1="798" y1="824.5" x2="798" y2="831.5" stroke="#2a2a2a" stroke-width="1.3"/>
<text x="797.3" y="842.6" font-family='"Liberation Sans", sans-serif' font-size="10.2" fill="#404040" text-anchor="middle" font-weight="normal" clip-path="url(#edgeclip)">40</text>
<line x1="808.86" y1="824.5" x2="808.86" y2="827.9" stroke="#2a2a2a" stroke-width="1.15"/>
<line x1="819.72" y1="824.5" x2="819.72" y2="827.9" stroke="#2a2a2a" stroke-width="1.15"/>
<line x1="830.58" y1="824.5" x2="830.58" y2="827.9" stroke="#2a2a2a" stroke-width="1.15"/>
<line x1="841.44" y1="824.5" x2="841.44" y2="827.9" stroke="#2a2a2a" stroke-width="1.15"/>
<line x1="852.3" y1="824.5" x2="852.3" y2="827.9" stroke="#2a2a2a" stroke-width="1.15"/>
<line x1="863.16" y1="824.5" x2="863.16" y2="827.9" stroke="#2a2a2a" stroke-width="1.15"/>
<line x1="874.02" y1="824.5" x2="874.02" y2="827.9" stroke="#2a2a2a" stroke-width="1.15"/>
<line x1="884.88" y1="824.5" x2="884.88" y2="827.9" stroke="#2a2a2a" stroke-width="1.15"/>
<line x1="895.74" y1="824.5" x2="895.74" y2="827.9" stroke="#2a2a2a" stroke-width="1.15"/>
<line x1="906.6" y1="824.5" x2="906.6" y2="831.5" stroke="#2a2a2a" stroke-width="1.3"/>
<text x="905.9" y="842.6" font-family='"Liberation Sans", sans-serif' font-size="10.2" fill="#404040" text-anchor="middle" font-weight="normal" clip-path="url(#edgeclip)">50</text>
<line x1="917.46" y1="824.5" x2="917.46" y2="827.9" stroke="#2a2a2a" stroke-width="1.15"/>
<line x1="928.32" y1="824.5" x2="928.32" y2="827.9" stroke="#2a2a2a" stroke-width="1.15"/>
<line x1="939.18" y1="824.5" x2="939.18" y2="827.9" stroke="#2a2a2a" stroke-width="1.15"/>
<line x1="950.04" y1="824.5" x2="950.04" y2="827.9" stroke="#2a2a2a" stroke-width="1.15"/>
<line x1="960.9" y1="824.5" x2="960.9" y2="827.9" stroke="#2a2a2a" stroke-width="1.15"/>
<line x1="971.76" y1="824.5" x2="971.76" y2="827.9" stroke="#2a2a2a" stroke-width="1.15"/>
<line x1="982.62" y1="824.5" x2="982.62" y2="827.9" stroke="#2a2a2a" stroke-width="1.15"/>
<line x1="993.48" y1="824.5" x2="993.48" y2="827.9" stroke="#2a2a2a" stroke-width="1.15"/>
<line x1="1004.34" y1="824.5" x2="1004.34" y2="827.9" stroke="#2a2a2a" stroke-width="1.15"/>
<line x1="1015.2" y1="824.5" x2="1015.2" y2="831.5" stroke="#2a2a2a" stroke-width="1.3"/>
<text x="1014.5" y="842.6" font-family='"Liberation Sans", sans-serif' font-size="10.2" fill="#404040" text-anchor="middle" font-weight="normal" clip-path="url(#edgeclip)">60</text>
<line x1="1026.06" y1="824.5" x2="1026.06" y2="827.9" stroke="#2a2a2a" stroke-width="1.15"/>
<line x1="1036.92" y1="824.5" x2="1036.92" y2="827.9" stroke="#2a2a2a" stroke-width="1.15"/>
<line x1="1047.78" y1="824.5" x2="1047.78" y2="827.9" stroke="#2a2a2a" stroke-width="1.15"/>
<line x1="1058.64" y1="824.5" x2="1058.64" y2="827.9" stroke="#2a2a2a" stroke-width="1.15"/>
<line x1="1069.5" y1="824.5" x2="1069.5" y2="827.9" stroke="#2a2a2a" stroke-width="1.15"/>
<line x1="1080.36" y1="824.5" x2="1080.36" y2="827.9" stroke="#2a2a2a" stroke-width="1.15"/>
<line x1="1091.22" y1="824.5" x2="1091.22" y2="827.9" stroke="#2a2a2a" stroke-width="1.15"/>
<line x1="1102.08" y1="824.5" x2="1102.08" y2="827.9" stroke="#2a2a2a" stroke-width="1.15"/>
<line x1="1112.94" y1="824.5" x2="1112.94" y2="827.9" stroke="#2a2a2a" stroke-width="1.15"/>
<line x1="1123.8" y1="824.5" x2="1123.8" y2="831.5" stroke="#2a2a2a" stroke-width="1.3"/>
<text x="1123.1" y="842.6" font-family='"Liberation Sans", sans-serif' font-size="10.2" fill="#404040" text-anchor="middle" font-weight="normal" clip-path="url(#edgeclip)">70</text>
<line x1="1134.66" y1="824.5" x2="1134.66" y2="827.9" stroke="#2a2a2a" stroke-width="1.15"/>
<line x1="1145.52" y1="824.5" x2="1145.52" y2="827.9" stroke="#2a2a2a" stroke-width="1.15"/>
<line x1="1156.38" y1="824.5" x2="1156.38" y2="827.9" stroke="#2a2a2a" stroke-width="1.15"/>
<line x1="1167.24" y1="824.5" x2="1167.24" y2="827.9" stroke="#2a2a2a" stroke-width="1.15"/>
<line x1="1178.1" y1="824.5" x2="1178.1" y2="827.9" stroke="#2a2a2a" stroke-width="1.15"/>
<line x1="1188.96" y1="824.5" x2="1188.96" y2="827.9" stroke="#2a2a2a" stroke-width="1.15"/>
<line x1="1199.82" y1="824.5" x2="1199.82" y2="827.9" stroke="#2a2a2a" stroke-width="1.15"/>
<line x1="1210.68" y1="824.5" x2="1210.68" y2="827.9" stroke="#2a2a2a" stroke-width="1.15"/>
<line x1="1221.54" y1="824.5" x2="1221.54" y2="827.9" stroke="#2a2a2a" stroke-width="1.15"/>
<line x1="1232.4" y1="824.5" x2="1232.4" y2="831.5" stroke="#2a2a2a" stroke-width="1.3"/>
<text x="1231.7" y="842.6" font-family='"Liberation Sans", sans-serif' font-size="10.2" fill="#404040" text-anchor="middle" font-weight="normal" clip-path="url(#edgeclip)">80</text>
<text x="892.4" y="856.8" font-family='"Liberation Sans", sans-serif' font-size="10.8" fill="#404040" text-anchor="start" font-weight="normal">Position [°2Theta]</text>
<text x="625" y="550.9" font-family='"Liberation Sans", sans-serif' font-size="10.4" fill="#404040" text-anchor="start" font-weight="normal">Counts</text>
<text x="709.6" y="584.1" font-family='"Liberation Sans", sans-serif' font-size="10.3" fill="#404040" text-anchor="start" font-weight="normal">Ti-6Al-4V-6Mo</text>
<text transform="translate(699.7,637.6) scale(0.89,1)" font-family='"Liberation Serif", serif' font-size="12" fill="#222" stroke="#222" stroke-width="0.2">Alpha Ti- 58%</text>
<text transform="translate(699.7,649.4) scale(0.89,1)" font-family='"Liberation Serif", serif' font-size="12" fill="#222" stroke="#222" stroke-width="0.2">Beta Ti- 42%</text>
<rect x="1106.9" y="563.9" width="117.2" height="115.9" fill="#fff200"/>
<path d="M1166.5,618.6 L1166.5,570 A48.6,48.6 0 1 1 1143.09,661.19 Z" fill="#0b2062" stroke="#0a1440" stroke-width="0.9"/>
<path d="M1161.17,617.23 L1137.76,659.82 A48.6,48.6 0 0 1 1161.17,568.63 Z" fill="#fa0000" stroke="#f8d850" stroke-width="1.6" stroke-linejoin="miter"/>
<text x="1127.2" y="609.4" font-family='"Liberation Serif", serif' font-size="8.8" fill="#f4f6fc" text-anchor="middle" font-weight="normal">42%</text>
<text x="1201.5" y="635.1" font-family='"Liberation Serif", serif' font-size="8.8" fill="#f4f6fc" text-anchor="middle" font-weight="normal">58%</text>
<line x1="93.3" y1="350.7" x2="93.3" y2="387.6" stroke="#d5c096" stroke-width="1.3"/>
<line x1="127.3" y1="350.7" x2="127.3" y2="387.6" stroke="#d5c096" stroke-width="1.3"/>
<line x1="142.1" y1="350.7" x2="142.1" y2="387.6" stroke="#d5c096" stroke-width="1.3"/>
<line x1="150" y1="350.7" x2="150" y2="387.6" stroke="#d5c096" stroke-width="1.3"/>
<line x1="159.3" y1="350.7" x2="159.3" y2="387.6" stroke="#d5c096" stroke-width="1.3"/>
<line x1="326.9" y1="350.7" x2="326.9" y2="387.6" stroke="#d5c096" stroke-width="1.3"/>
<line x1="431" y1="350.7" x2="431" y2="387.6" stroke="#d5c096" stroke-width="1.3"/>
<line x1="525.2" y1="350.7" x2="525.2" y2="387.6" stroke="#d5c096" stroke-width="1.3"/>
<line x1="603.8" y1="350.7" x2="603.8" y2="387.6" stroke="#d5c096" stroke-width="1.3"/>
<line x1="620.5" y1="350.7" x2="620.5" y2="387.6" stroke="#d5c096" stroke-width="1.3"/>
<line x1="134.5" y1="387.6" x2="134.5" y2="426.1" stroke="#c06058" stroke-width="1.1"/>
<line x1="346.4" y1="387.6" x2="346.4" y2="426.1" stroke="#c06058" stroke-width="1.1"/>
<line x1="521.7" y1="387.6" x2="521.7" y2="426.1" stroke="#c06058" stroke-width="1.1"/>
<line x1="90" y1="426.1" x2="90" y2="463.3" stroke="#50508f" stroke-width="1.1"/>
<line x1="130" y1="426.1" x2="130" y2="463.3" stroke="#50508f" stroke-width="1.1"/>
<line x1="152.4" y1="426.1" x2="152.4" y2="463.3" stroke="#50508f" stroke-width="1.1"/>
<line x1="311.3" y1="426.1" x2="311.3" y2="463.3" stroke="#50508f" stroke-width="1.1"/>
<line x1="435.7" y1="426.1" x2="435.7" y2="463.3" stroke="#50508f" stroke-width="1.1"/>
<line x1="529.7" y1="426.1" x2="529.7" y2="463.3" stroke="#50508f" stroke-width="1.1"/>
<line x1="574.2" y1="426.1" x2="574.2" y2="463.3" stroke="#50508f" stroke-width="1.1"/>
<line x1="598.8" y1="426.1" x2="598.8" y2="463.3" stroke="#50508f" stroke-width="1.1"/>
<line x1="613.4" y1="426.1" x2="613.4" y2="463.3" stroke="#50508f" stroke-width="1.1"/>
<line x1="76.5" y1="426.1" x2="621.7" y2="426.1" stroke="#6a6a6a" stroke-width="1.2"/>
<line x1="76.5" y1="387.6" x2="621.7" y2="387.6" stroke="#6a6a6a" stroke-width="1"/>
<clipPath id="c4"><rect x="76.5" y="350.7" width="545.2" height="112.6"/></clipPath>
<path clip-path="url(#c4)" d="M76.5,387.58 L87.75,387.49 L89.75,387.36 L90.75,387.11 L91.25,386.63 L91.75,385.38 L93,378.26 L93.25,377.6 L93.5,377.89 L93.75,379.01 L94.5,383.77 L95,385.87 L95.5,386.82 L96.25,387.26 L100,387.51 L112.25,387.55 L121,387.46 L124.25,387.19 L124.75,386.98 L125.25,386.42 L125.75,384.97 L127,376.7 L127.25,375.94 L127.5,376.27 L127.75,377.56 L128.5,383.09 L129,385.51 L129.5,386.62 L130,387.02 L131,387.24 L133,387.32 L135,387.26 L136.25,387.04 L137,386.68 L137.5,386.26 L139.25,383.89 L139.75,383.44 L140,383.37 L140.25,383.42 L140.75,383.84 L142.5,386.05 L143.25,386.47 L144,386.45 L144.75,385.94 L145.25,385.28 L146.75,382.21 L147.25,381.44 L147.5,381.28 L147.75,381.29 L148.25,381.82 L149.75,384.85 L150.75,386.11 L151.5,386.49 L152.25,386.58 L153.5,386.42 L154.5,386.05 L155.25,385.54 L155.75,385.01 L156.5,383.67 L157,381.9 L157.5,378.08 L158,369.26 L158.75,345.7 L159.75,345.7 L160,347.17 L160.75,370.94 L161.25,377.45 L161.75,380.15 L162.25,381.49 L163,382.8 L164,384.13 L165.25,385.42 L166.25,386.14 L167.25,386.63 L168.5,386.98 L170.25,387.2 L177.5,387.46 L193.25,387.56 L320.5,387.55 L323,387.47 L324.25,387.2 L325,386.73 L326.5,385.23 L327,385.11 L327.5,385.39 L329,386.88 L329.75,387.28 L331,387.49 L333.5,387.56 L425.75,387.56 L427.5,387.5 L428.5,387.32 L430.5,386.22 L431,386.1 L431.5,386.22 L433.5,387.32 L434.5,387.5 L436,387.56 L515.5,387.56 L520,387.48 L521.75,387.22 L523,386.48 L524.75,384.74 L525.25,384.6 L525.75,384.81 L527.25,386.34 L528.25,387.05 L529.25,387.36 L530.75,387.48 L537,387.46 L538.25,387.28 L540.25,386.69 L541,386.59 L544.25,387.39 L546.75,387.55 L599,387.52 L600.5,387.39 L601.25,387.15 L602,386.64 L603.25,385.34 L603.75,385.09 L604.25,385.26 L606,386.95 L606.75,387.3 L608.25,387.49 L612.75,387.54 L616.25,387.48 L617.5,387.31 L618.5,386.8 L620,385.3 L620.5,385.09 L621,385.3 L621.5,385.79" stroke="#3ab644" stroke-width="2.1" fill="none"/>
<path d="M621.7,350.7 L76.5,350.7 L76.5,463.3 L621.7,463.3" stroke="#2a2a2a" stroke-width="2.1" fill="none"/>
<text x="80.5" y="360.5" font-family='"Liberation Sans", sans-serif' font-size="11.2" fill="#404040" text-anchor="start" font-weight="normal">Residue + Peak List</text>
<text x="80.5" y="397.7" font-family='"Liberation Sans", sans-serif' font-size="10.6" fill="#c04c4c" text-anchor="start" font-weight="normal">01-089-4913</text>
<text x="80.5" y="435" font-family='"Liberation Sans", sans-serif' font-size="10.6" fill="#3c3ca0" text-anchor="start" font-weight="normal">01-089-5009</text>
<line x1="746.5" y1="355.5" x2="746.5" y2="392" stroke="#d5c096" stroke-width="1.3"/>
<line x1="781" y1="355.5" x2="781" y2="392" stroke="#d5c096" stroke-width="1.3"/>
<line x1="798" y1="355.5" x2="798" y2="392" stroke="#d5c096" stroke-width="1.3"/>
<line x1="812.9" y1="355.5" x2="812.9" y2="392" stroke="#d5c096" stroke-width="1.3"/>
<line x1="950" y1="355.5" x2="950" y2="392" stroke="#d5c096" stroke-width="1.3"/>
<line x1="993" y1="355.5" x2="993" y2="392" stroke="#d5c096" stroke-width="1.3"/>
<line x1="1058.6" y1="355.5" x2="1058.6" y2="392" stroke="#d5c096" stroke-width="1.3"/>
<line x1="1139.4" y1="355.5" x2="1139.4" y2="392" stroke="#d5c096" stroke-width="1.3"/>
<line x1="1153.4" y1="355.5" x2="1153.4" y2="392" stroke="#d5c096" stroke-width="1.3"/>
<line x1="1202.6" y1="355.5" x2="1202.6" y2="392" stroke="#d5c096" stroke-width="1.3"/>
<line x1="1215.9" y1="355.5" x2="1215.9" y2="392" stroke="#d5c096" stroke-width="1.3"/>
<line x1="783.3" y1="392" x2="783.3" y2="430.5" stroke="#c06058" stroke-width="1.1"/>
<line x1="972.5" y1="392" x2="972.5" y2="430.5" stroke="#c06058" stroke-width="1.1"/>
<line x1="1127.6" y1="392" x2="1127.6" y2="430.5" stroke="#c06058" stroke-width="1.1"/>
<line x1="743.7" y1="430.5" x2="743.7" y2="467.2" stroke="#50508f" stroke-width="1.1"/>
<line x1="780.6" y1="430.5" x2="780.6" y2="467.2" stroke="#50508f" stroke-width="1.1"/>
<line x1="799.8" y1="430.5" x2="799.8" y2="467.2" stroke="#50508f" stroke-width="1.1"/>
<line x1="940.5" y1="430.5" x2="940.5" y2="467.2" stroke="#50508f" stroke-width="1.1"/>
<line x1="1050.1" y1="430.5" x2="1050.1" y2="467.2" stroke="#50508f" stroke-width="1.1"/>
<line x1="1134.5" y1="430.5" x2="1134.5" y2="467.2" stroke="#50508f" stroke-width="1.1"/>
<line x1="1174.3" y1="430.5" x2="1174.3" y2="467.2" stroke="#50508f" stroke-width="1.1"/>
<line x1="1196.5" y1="430.5" x2="1196.5" y2="467.2" stroke="#50508f" stroke-width="1.1"/>
<line x1="1208.6" y1="430.5" x2="1208.6" y2="467.2" stroke="#50508f" stroke-width="1.1"/>
<line x1="690" y1="430.5" x2="1231.8" y2="430.5" stroke="#6a6a6a" stroke-width="1.2"/>
<line x1="690" y1="392" x2="1231.8" y2="392" stroke="#6a6a6a" stroke-width="1"/>
<clipPath id="c5"><rect x="690" y="355.5" width="541.8" height="111.7"/></clipPath>
<path clip-path="url(#c5)" d="M690,391.99 L730.5,391.95 L735.5,391.87 L737.75,391.69 L738.25,391.53 L738.75,391.1 L739.25,389.99 L740.5,383.7 L740.75,383.12 L741,383.37 L741.25,384.34 L742,388.51 L742.5,390.32 L743,391.11 L743.75,391.35 L744.25,391.14 L744.5,390.87 L745,389.69 L746,384.43 L746.25,383.32 L746.5,382.9 L746.75,383.34 L747.75,388.74 L748.25,390.52 L748.75,391.31 L749.25,391.6 L749.75,391.71 L754.25,391.92 L768.5,391.93 L775.25,391.83 L777.75,391.58 L778.5,391.12 L779,390.3 L779.5,388.75 L780.5,384.04 L780.75,383.23 L781,382.93 L781.25,383.22 L781.5,384.04 L782.75,389.61 L783.25,390.76 L784,391.45 L785.25,391.69 L788.5,391.78 L792,391.67 L793.5,391.42 L794.25,390.9 L794.75,390.13 L796,386.65 L796.5,385.76 L796.75,385.78 L797,386.14 L798.25,389.56 L799,390.75 L799.5,391.07 L800,391.19 L801.75,391.01 L802.5,390.61 L803,389.94 L803.5,388.49 L803.75,387.31 L804.25,383.79 L805.25,373.94 L805.5,372.18 L805.75,371.35 L806,371.66 L806.25,373.01 L807.25,382.42 L808,387.22 L808.25,388.03 L808.5,388.5 L808.75,388.66 L809,388.54 L809.25,388.13 L809.5,387.36 L810.25,382.3 L811.75,363.58 L812,362.53 L812.25,362.89 L813,368.52 L813.25,369.76 L813.5,369.64 L813.75,367.8 L814,364.19 L814.75,350.5 L815.25,350.5 L816.5,377.17 L816.75,380.15 L817.25,383.33 L817.5,384.07 L818,384.91 L821,388.85 L822,389.92 L822.75,390.51 L823.75,391.03 L824.75,391.33 L826.25,391.55 L833.25,391.84 L848.75,391.95 L928.25,391.99 L944.25,391.88 L946.25,391.71 L947.25,391.28 L947.75,390.77 L948.25,389.99 L949.5,387.41 L950,387 L950.5,387.41 L951.75,389.99 L952.25,390.77 L952.75,391.28 L953.25,391.56 L954,391.76 L956.25,391.9 L988.75,391.95 L990.5,391.81 L993,390.99 L995.5,391.81 L997.75,391.96 L1040.5,391.98 L1052.5,391.87 L1054.5,391.66 L1055.5,391.23 L1056.5,390.19 L1058,387.87 L1058.5,387.51 L1058.75,387.52 L1059.25,387.93 L1060.75,390.26 L1061.5,391.07 L1062.5,391.61 L1064,391.83 L1078,391.98 L1129.75,391.92 L1133.75,391.78 L1135.5,391.39 L1136.25,390.9 L1136.75,390.39 L1138.75,387.38 L1139.25,387.01 L1139.5,386.99 L1140.25,387.63 L1141.75,390 L1142.5,390.85 L1143.5,391.46 L1145,391.75 L1147.5,391.83 L1149.25,391.72 L1150.25,391.49 L1152.25,390.61 L1153,390.46 L1153.75,390.62 L1156,391.6 L1158.25,391.9 L1192.25,391.92 L1197,391.77 L1198,391.62 L1198.75,391.36 L1199.5,390.85 L1200,390.32 L1201.75,387.62 L1202.5,386.98 L1202.75,386.99 L1203.25,387.36 L1205,390.04 L1205.75,390.86 L1206.5,391.34 L1207.5,391.62 L1210.5,391.71 L1211.5,391.58 L1212.25,391.34 L1213.5,390.41 L1215.25,388.27 L1215.75,387.98 L1216,387.97 L1216.75,388.48 L1218.75,390.87 L1219.5,391.37 L1220.25,391.63 L1223,391.88 L1231.75,391.97" stroke="#3ab644" stroke-width="2.1" fill="none"/>
<path d="M1231.8,355.5 L690,355.5 L690,467.2 L1231.8,467.2" stroke="#2a2a2a" stroke-width="2.1" fill="none"/>
<line x1="1231.8" y1="354.5" x2="1231.8" y2="468.2" stroke="#2a2a2a" stroke-width="2.1"/>
<text x="694" y="365.6" font-family='"Liberation Sans", sans-serif' font-size="10.85" fill="#404040" text-anchor="start" font-weight="normal">Residue + Peak List</text>
<text x="694" y="402.8" font-family='"Liberation Sans", sans-serif' font-size="10.2" fill="#c04c4c" text-anchor="start" font-weight="normal">01-089-4913</text>
<text x="694" y="439.3" font-family='"Liberation Sans", sans-serif' font-size="10.2" fill="#3c3ca0" text-anchor="start" font-weight="normal">01-089-5009</text>
<line x1="134.5" y1="869.6" x2="134.5" y2="906.4" stroke="#d5c096" stroke-width="1.3"/>
<line x1="168.1" y1="869.6" x2="168.1" y2="906.4" stroke="#d5c096" stroke-width="1.3"/>
<line x1="181.2" y1="869.6" x2="181.2" y2="906.4" stroke="#d5c096" stroke-width="1.3"/>
<line x1="187.3" y1="869.6" x2="187.3" y2="906.4" stroke="#d5c096" stroke-width="1.3"/>
<line x1="328.8" y1="869.6" x2="328.8" y2="906.4" stroke="#d5c096" stroke-width="1.3"/>
<line x1="373.3" y1="869.6" x2="373.3" y2="906.4" stroke="#d5c096" stroke-width="1.3"/>
<line x1="444.6" y1="869.6" x2="444.6" y2="906.4" stroke="#d5c096" stroke-width="1.3"/>
<line x1="527.3" y1="869.6" x2="527.3" y2="906.4" stroke="#d5c096" stroke-width="1.3"/>
<line x1="537.2" y1="869.6" x2="537.2" y2="906.4" stroke="#d5c096" stroke-width="1.3"/>
<line x1="591.3" y1="869.6" x2="591.3" y2="906.4" stroke="#d5c096" stroke-width="1.3"/>
<line x1="605.7" y1="869.6" x2="605.7" y2="906.4" stroke="#d5c096" stroke-width="1.3"/>
<line x1="172.1" y1="906.4" x2="172.1" y2="944.1" stroke="#c06058" stroke-width="1.1"/>
<line x1="362.1" y1="906.4" x2="362.1" y2="944.1" stroke="#c06058" stroke-width="1.1"/>
<line x1="518.8" y1="906.4" x2="518.8" y2="944.1" stroke="#c06058" stroke-width="1.1"/>
<line x1="132.5" y1="944.1" x2="132.5" y2="982" stroke="#50508f" stroke-width="1.1"/>
<line x1="168.9" y1="944.1" x2="168.9" y2="982" stroke="#50508f" stroke-width="1.1"/>
<line x1="188.9" y1="944.1" x2="188.9" y2="982" stroke="#50508f" stroke-width="1.1"/>
<line x1="330.1" y1="944.1" x2="330.1" y2="982" stroke="#50508f" stroke-width="1.1"/>
<line x1="440.6" y1="944.1" x2="440.6" y2="982" stroke="#50508f" stroke-width="1.1"/>
<line x1="525.7" y1="944.1" x2="525.7" y2="982" stroke="#50508f" stroke-width="1.1"/>
<line x1="564.9" y1="944.1" x2="564.9" y2="982" stroke="#50508f" stroke-width="1.1"/>
<line x1="587.3" y1="944.1" x2="587.3" y2="982" stroke="#50508f" stroke-width="1.1"/>
<line x1="599.6" y1="944.1" x2="599.6" y2="982" stroke="#50508f" stroke-width="1.1"/>
<line x1="76.5" y1="944.1" x2="621.7" y2="944.1" stroke="#6a6a6a" stroke-width="1.2"/>
<line x1="76.5" y1="906.4" x2="621.7" y2="906.4" stroke="#6a6a6a" stroke-width="1"/>
<clipPath id="c6"><rect x="76.5" y="869.6" width="545.2" height="112.4"/></clipPath>
<path clip-path="url(#c6)" d="M76.5,906.4 L122.75,906.36 L128.25,906.28 L130.75,906.1 L131.75,905.72 L132.25,905.11 L132.5,904.57 L133,902.84 L134,897.62 L134.25,896.72 L134.5,896.38 L134.75,896.72 L135,897.62 L136,902.84 L136.5,904.57 L136.75,905.11 L137.25,905.72 L138.25,906.09 L142.75,906.31 L155.5,906.32 L160.75,906.19 L163,905.87 L163.5,905.52 L163.75,905.18 L164.25,903.81 L165.25,898.25 L165.5,897.14 L165.75,896.7 L166,896.99 L166.75,898.9 L167,898.85 L167.75,896.86 L168,896.7 L168.25,897.29 L169.5,903.94 L170,905.19 L170.5,905.68 L171.75,905.96 L174,905.99 L175.75,905.78 L176.5,905.38 L177,904.72 L177.5,903.48 L178.75,898.13 L179,897.32 L179.25,896.94 L179.5,897.07 L179.75,897.66 L180.75,901.82 L181.25,903.39 L181.75,904.23 L182,904.42 L182.5,904.44 L183,904.02 L183.5,902.71 L184,899.16 L184.5,891.41 L185.5,866.55 L185.75,864.6 L187.5,864.6 L187.75,868.66 L188.75,894.89 L189,898.58 L189.5,902.63 L190,904.18 L190.75,905.02 L192.25,905.65 L194.5,906.01 L200.75,906.27 L215,906.37 L306.5,906.39 L323,906.3 L325.25,906.1 L326.25,905.6 L327,904.67 L328.25,902.34 L328.75,901.9 L329.25,902.2 L330.75,904.9 L331.25,905.51 L331.75,905.87 L333,906.21 L336.25,906.34 L367.75,906.35 L370,906.15 L372.25,905.5 L373,905.4 L376.25,906.2 L379,906.36 L425.5,906.39 L438.5,906.29 L440.5,906.1 L441.5,905.71 L442.5,904.79 L444,902.73 L444.5,902.41 L444.75,902.42 L445.25,902.78 L446.75,904.85 L447.5,905.58 L448.5,906.05 L450.25,906.27 L467.25,906.39 L519.5,906.32 L522.5,906.16 L523.75,905.79 L524.75,904.96 L526.5,902.62 L527,902.38 L527.25,902.44 L527.75,902.88 L529,904.64 L529.75,905.44 L530.75,905.97 L532,906.17 L534,906.06 L537,905.35 L540.25,906.17 L542.75,906.34 L573.25,906.37 L584.75,906.24 L586.25,906.07 L587.5,905.64 L588.5,904.91 L590.25,903.17 L591,902.87 L591.75,903.17 L593.5,904.89 L594.25,905.46 L595.25,905.91 L596.25,906.1 L599.25,906.16 L601.25,905.88 L602.75,905.18 L604.75,903.69 L605.75,903.37 L606.75,903.76 L609.25,905.55 L610.75,906.06 L613.5,906.29 L621.5,906.37" stroke="#3ab644" stroke-width="2.1" fill="none"/>
<path d="M621.7,869.6 L76.5,869.6 L76.5,982 L621.7,982" stroke="#2a2a2a" stroke-width="2.1" fill="none"/>
<text x="80.5" y="879.5" font-family='"Liberation Sans", sans-serif' font-size="11" fill="#404040" text-anchor="start" font-weight="normal">Residue + Peak List</text>
<text x="80.5" y="916.8" font-family='"Liberation Sans", sans-serif' font-size="10.45" fill="#c04c4c" text-anchor="start" font-weight="normal">01-089-4913</text>
<text x="80.5" y="953.7" font-family='"Liberation Sans", sans-serif' font-size="10.45" fill="#3c3ca0" text-anchor="start" font-weight="normal">01-089-5009</text>
<line x1="748.5" y1="870.3" x2="748.5" y2="907.2" stroke="#d5c096" stroke-width="1.3"/>
<line x1="784.9" y1="870.3" x2="784.9" y2="907.2" stroke="#d5c096" stroke-width="1.3"/>
<line x1="799.3" y1="870.3" x2="799.3" y2="907.2" stroke="#d5c096" stroke-width="1.3"/>
<line x1="810.5" y1="870.3" x2="810.5" y2="907.2" stroke="#d5c096" stroke-width="1.3"/>
<line x1="948.5" y1="870.3" x2="948.5" y2="907.2" stroke="#d5c096" stroke-width="1.3"/>
<line x1="989.8" y1="870.3" x2="989.8" y2="907.2" stroke="#d5c096" stroke-width="1.3"/>
<line x1="1060.1" y1="870.3" x2="1060.1" y2="907.2" stroke="#d5c096" stroke-width="1.3"/>
<line x1="1139.4" y1="870.3" x2="1139.4" y2="907.2" stroke="#d5c096" stroke-width="1.3"/>
<line x1="1199.5" y1="870.3" x2="1199.5" y2="907.2" stroke="#d5c096" stroke-width="1.3"/>
<line x1="1215.4" y1="870.3" x2="1215.4" y2="907.2" stroke="#d5c096" stroke-width="1.3"/>
<line x1="785.2" y1="907.2" x2="785.2" y2="945.3" stroke="#c06058" stroke-width="1.1"/>
<line x1="972.5" y1="907.2" x2="972.5" y2="945.3" stroke="#c06058" stroke-width="1.1"/>
<line x1="1126.6" y1="907.2" x2="1126.6" y2="945.3" stroke="#c06058" stroke-width="1.1"/>
<line x1="746.1" y1="945.3" x2="746.1" y2="981.8" stroke="#50508f" stroke-width="1.1"/>
<line x1="782.5" y1="945.3" x2="782.5" y2="981.8" stroke="#50508f" stroke-width="1.1"/>
<line x1="801.7" y1="945.3" x2="801.7" y2="981.8" stroke="#50508f" stroke-width="1.1"/>
<line x1="941.3" y1="945.3" x2="941.3" y2="981.8" stroke="#50508f" stroke-width="1.1"/>
<line x1="1050.5" y1="945.3" x2="1050.5" y2="981.8" stroke="#50508f" stroke-width="1.1"/>
<line x1="1133.7" y1="945.3" x2="1133.7" y2="981.8" stroke="#50508f" stroke-width="1.1"/>
<line x1="1172.4" y1="945.3" x2="1172.4" y2="981.8" stroke="#50508f" stroke-width="1.1"/>
<line x1="1194.7" y1="945.3" x2="1194.7" y2="981.8" stroke="#50508f" stroke-width="1.1"/>
<line x1="1207.2" y1="945.3" x2="1207.2" y2="981.8" stroke="#50508f" stroke-width="1.1"/>
<line x1="691.2" y1="945.3" x2="1233.3" y2="945.3" stroke="#6a6a6a" stroke-width="1.2"/>
<line x1="691.2" y1="907.2" x2="1233.3" y2="907.2" stroke="#6a6a6a" stroke-width="1"/>
<clipPath id="c7"><rect x="691.2" y="870.3" width="542.1" height="111.5"/></clipPath>
<path clip-path="url(#c7)" d="M691.2,907.19 L736.2,907.16 L741.7,907.1 L744.45,906.94 L745.2,906.78 L745.7,906.51 L746.45,905.43 L746.95,903.99 L747.95,899.94 L748.2,899.22 L748.45,898.89 L748.7,899.03 L748.95,899.61 L749.95,903.62 L750.7,905.74 L751.45,906.61 L752.2,906.88 L755.2,907.09 L762.95,907.15 L779.7,907.1 L786.2,906.92 L787.2,906.77 L788.2,906.43 L790.7,904.89 L792.7,904.81 L793.45,904.22 L794.7,902.55 L794.95,902.4 L795.7,902.46 L795.95,902.37 L796.45,901.38 L797.45,896.92 L797.7,896.64 L797.95,897.23 L798.2,898.52 L798.95,903.2 L799.2,904.32 L799.7,905.63 L800.2,906.13 L800.95,906.31 L802.2,906.29 L803.45,906.05 L804.2,905.71 L804.7,905.25 L805.45,903.78 L806.2,900.69 L807.7,891.34 L807.95,890.4 L808.7,889.06 L808.95,888.32 L809.45,884.85 L810.45,870.92 L810.7,868.17 L810.95,866.94 L811.2,867.57 L811.45,869.91 L812.45,884.1 L812.95,887.39 L813.2,887.53 L813.45,886.87 L814.2,882.99 L814.45,882.18 L814.7,882.03 L814.95,882.57 L815.45,885.21 L817.2,897.75 L817.7,900.25 L818.45,902.91 L819.2,904.56 L820.2,905.72 L821.45,906.31 L823.95,906.71 L830.95,907.02 L845.7,907.14 L923.45,907.19 L941.95,907.1 L944.2,906.94 L945.45,906.48 L946.45,905.53 L947.95,903.48 L948.45,903.2 L948.7,903.23 L949.2,903.64 L950.7,905.71 L951.45,906.41 L952.7,906.92 L954.45,907.08 L984.45,907.15 L986.7,906.97 L989.7,906.2 L990.45,906.27 L992.95,906.98 L995.7,907.16 L1051.2,907.13 L1054.7,907 L1056.2,906.68 L1057.2,906.06 L1059.2,903.66 L1059.95,903.2 L1060.2,903.23 L1060.7,903.56 L1062.2,905.44 L1063.2,906.36 L1064.2,906.82 L1065.95,907.05 L1079.7,907.18 L1128.95,907.14 L1133.45,907.01 L1135.2,906.69 L1135.95,906.32 L1136.7,905.72 L1138.7,903.5 L1139.45,903.2 L1140.2,903.59 L1141.95,905.57 L1142.95,906.38 L1144.2,906.86 L1146.2,907.06 L1170.7,907.18 L1192.7,907.05 L1194.45,906.86 L1195.7,906.47 L1196.7,905.9 L1198.45,904.56 L1199.45,904.17 L1200.45,904.49 L1202.45,905.98 L1203.95,906.68 L1205.7,906.96 L1208.7,906.98 L1210.2,906.85 L1211.45,906.51 L1212.45,905.98 L1214.45,904.49 L1215.45,904.17 L1216.45,904.56 L1218.95,906.35 L1220.7,906.91 L1223.7,907.1 L1233.2,907.17" stroke="#3ab644" stroke-width="2.1" fill="none"/>
<path d="M1233.3,870.3 L691.2,870.3 L691.2,981.8 L1233.3,981.8" stroke="#2a2a2a" stroke-width="2.1" fill="none"/>
<line x1="1233.3" y1="869.3" x2="1233.3" y2="982.8" stroke="#2a2a2a" stroke-width="2.1"/>
<text x="695.2" y="880.4" font-family='"Liberation Sans", sans-serif' font-size="10.9" fill="#404040" text-anchor="start" font-weight="normal">Residue + Peak List</text>
<text x="695.2" y="917.2" font-family='"Liberation Sans", sans-serif' font-size="10.35" fill="#c04c4c" text-anchor="start" font-weight="normal">01-089-4913</text>
<text x="695.2" y="953.7" font-family='"Liberation Sans", sans-serif' font-size="10.35" fill="#3c3ca0" text-anchor="start" font-weight="normal">01-089-5009</text>
<text transform="translate(314.9,506.2) scale(0.94,1)" font-family='"Liberation Serif", serif' font-size="24" fill="#000" text-anchor="middle">(<tspan font-weight="bold">a</tspan>)</text>
<text transform="translate(929.5,506.2) scale(0.94,1)" font-family='"Liberation Serif", serif' font-size="24" fill="#000" text-anchor="middle">(<tspan font-weight="bold">b</tspan>)</text>
<text transform="translate(314.6,1032.2) scale(0.94,1)" font-family='"Liberation Serif", serif' font-size="24" fill="#000" text-anchor="middle">(<tspan font-weight="bold">c</tspan>)</text>
<text transform="translate(929.5,1032.2) scale(0.94,1)" font-family='"Liberation Serif", serif' font-size="24" fill="#000" text-anchor="middle">(<tspan font-weight="bold">d</tspan>)</text>
</svg>
</body></html>
